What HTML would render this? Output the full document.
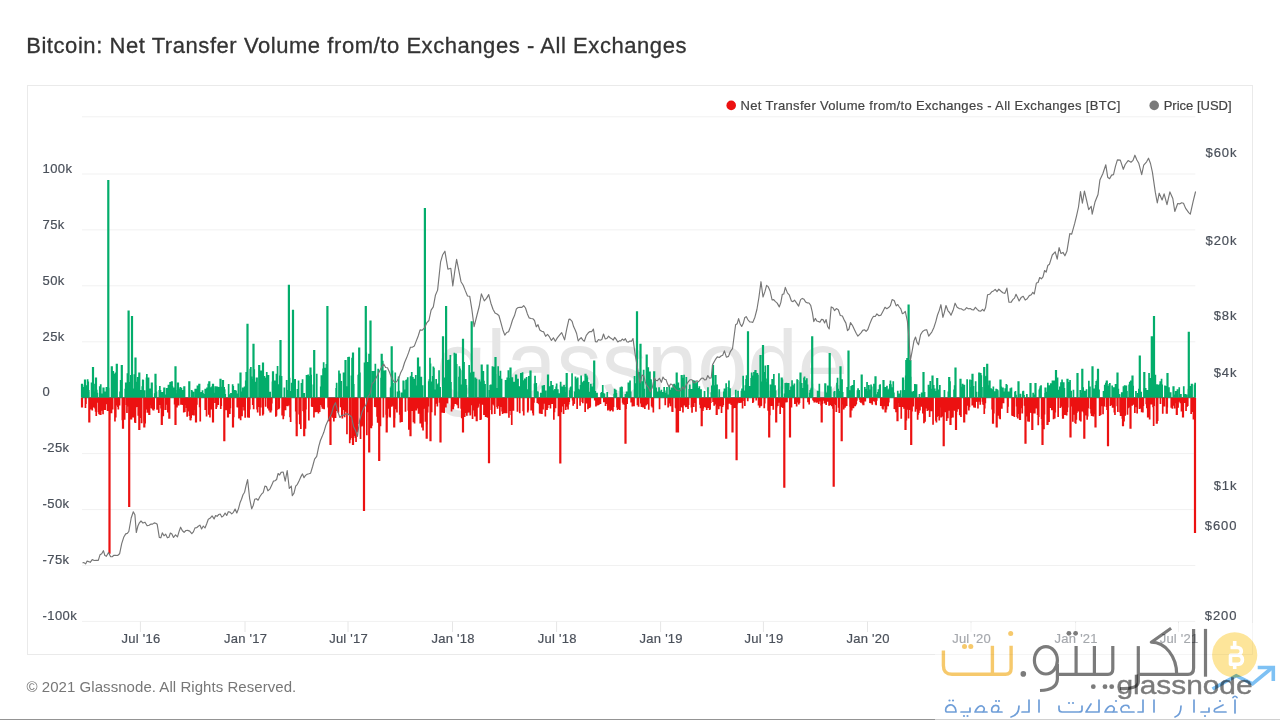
<!DOCTYPE html>
<html><head><meta charset="utf-8"><style>
html,body{margin:0;padding:0;background:#fff;width:1280px;height:720px;overflow:hidden;}
body{position:relative;font-family:"Liberation Sans",sans-serif;}
#title{position:absolute;left:26.2px;top:31px;font-size:22px;color:#333;letter-spacing:0.56px;-webkit-text-stroke:0.3px #333;white-space:nowrap;line-height:30px;}
#foot{position:absolute;left:26.5px;top:676px;font-size:15px;color:#777;white-space:nowrap;line-height:22px;letter-spacing:0.05px;}
#box{position:absolute;left:27px;top:85px;width:1224px;height:568px;border:1px solid #eaeaea;}
svg{position:absolute;left:0;top:0;}
.ax text{font-family:"Liberation Sans",sans-serif;font-size:13px;fill:#4a505a;stroke:#4a505a;stroke-width:0.2px;}
.lg text{font-family:"Liberation Sans",sans-serif;font-size:13px;fill:#444;stroke:#444;stroke-width:0.2px;}
#bline{position:absolute;left:0;top:719px;width:935px;height:1px;background:#949494;}#bline2{position:absolute;left:935px;top:719px;width:345px;height:1px;background:#d0d0d0;}
</style></head><body>
<div id="title">Bitcoin: Net Transfer Volume from/to Exchanges - All Exchanges</div>
<div id="box"></div>
<svg width="1280" height="720" viewBox="0 0 1280 720">
<g><line x1="82.0" x2="1195.3" y1="621.4" y2="621.4" stroke="#f1f1f1" stroke-width="1"/><line x1="82.0" x2="1195.3" y1="565.5" y2="565.5" stroke="#f1f1f1" stroke-width="1"/><line x1="82.0" x2="1195.3" y1="509.6" y2="509.6" stroke="#f1f1f1" stroke-width="1"/><line x1="82.0" x2="1195.3" y1="453.6" y2="453.6" stroke="#f1f1f1" stroke-width="1"/><line x1="82.0" x2="1195.3" y1="397.7" y2="397.7" stroke="#f1f1f1" stroke-width="1"/><line x1="82.0" x2="1195.3" y1="341.8" y2="341.8" stroke="#f1f1f1" stroke-width="1"/><line x1="82.0" x2="1195.3" y1="285.8" y2="285.8" stroke="#f1f1f1" stroke-width="1"/><line x1="82.0" x2="1195.3" y1="229.9" y2="229.9" stroke="#f1f1f1" stroke-width="1"/><line x1="82.0" x2="1195.3" y1="174" y2="174" stroke="#f1f1f1" stroke-width="1"/><line x1="82.0" x2="1195.3" y1="116.8" y2="116.8" stroke="#f1f1f1" stroke-width="1"/><line x1="140.4" x2="140.4" y1="621.5" y2="632" stroke="#e6e6e6" stroke-width="1"/><line x1="245.0" x2="245.0" y1="621.5" y2="632" stroke="#e6e6e6" stroke-width="1"/><line x1="348.0" x2="348.0" y1="621.5" y2="632" stroke="#e6e6e6" stroke-width="1"/><line x1="452.5" x2="452.5" y1="621.5" y2="632" stroke="#e6e6e6" stroke-width="1"/><line x1="556.6" x2="556.6" y1="621.5" y2="632" stroke="#e6e6e6" stroke-width="1"/><line x1="660.6" x2="660.6" y1="621.5" y2="632" stroke="#e6e6e6" stroke-width="1"/><line x1="763.4" x2="763.4" y1="621.5" y2="632" stroke="#e6e6e6" stroke-width="1"/><line x1="867.5" x2="867.5" y1="621.5" y2="632" stroke="#e6e6e6" stroke-width="1"/><line x1="971.0" x2="971.0" y1="621.5" y2="632" stroke="#e6e6e6" stroke-width="1"/><line x1="1075.6" x2="1075.6" y1="621.5" y2="632" stroke="#e6e6e6" stroke-width="1"/><line x1="1178.5" x2="1178.5" y1="621.5" y2="632" stroke="#e6e6e6" stroke-width="1"/></g>
<text x="436" y="397" font-family="Liberation Sans" font-size="95" fill="#e6e6e6" textLength="412" lengthAdjust="spacingAndGlyphs">glassnode</text>
<line x1="82.0" x2="1195.3" y1="397.7" y2="397.7" stroke="#555" stroke-width="1"/>
<path fill="#03ad6b" d="M81.2 390h1.7V397.7h-1.7zM81.7 385.3h1.7V397.7h-1.7zM82.3 387h1.7V397.7h-1.7zM82.9 392.9h1.7V397.7h-1.7zM83.4 393h1.7V397.7h-1.7zM84 392.8h1.7V397.7h-1.7zM85.7 385.3h1.7V397.7h-1.7zM86.3 386.2h1.7V397.7h-1.7zM86.8 379.3h1.7V397.7h-1.7zM87.4 381.5h1.7V397.7h-1.7zM88 392.1h1.7V397.7h-1.7zM93.1 383.7h1.7V397.7h-1.7zM93.7 391.5h1.7V397.7h-1.7zM95.9 389.7h1.7V397.7h-1.7zM96.5 392.7h1.7V397.7h-1.7zM99.9 384.3h1.7V397.7h-1.7zM101 393.6h1.7V397.7h-1.7zM102.8 389.1h1.7V397.7h-1.7zM103.3 392.8h1.7V397.7h-1.7zM103.9 391.4h1.7V397.7h-1.7zM105.6 387h1.7V397.7h-1.7zM106.2 391.1h1.7V397.7h-1.7zM107.3 376.2h1.7V397.7h-1.7zM107.9 387.7h1.7V397.7h-1.7zM112.4 371.1h1.7V397.7h-1.7zM113 382.1h1.7V397.7h-1.7zM113.6 379.1h1.7V397.7h-1.7zM114.7 372.4h1.7V397.7h-1.7zM115.3 385.6h1.7V397.7h-1.7zM119.2 391.5h1.7V397.7h-1.7zM119.8 380h1.7V397.7h-1.7zM120.4 388.6h1.7V397.7h-1.7zM120.9 385.6h1.7V397.7h-1.7zM124.4 391.7h1.7V397.7h-1.7zM124.9 382.4h1.7V397.7h-1.7zM125.5 382.4h1.7V397.7h-1.7zM126.6 373.3h1.7V397.7h-1.7zM127.2 387.4h1.7V397.7h-1.7zM128.3 382.1h1.7V397.7h-1.7zM128.9 386.4h1.7V397.7h-1.7zM130 374.9h1.7V397.7h-1.7zM132.9 388.4h1.7V397.7h-1.7zM133.5 374.3h1.7V397.7h-1.7zM136.3 381.8h1.7V397.7h-1.7zM136.9 377h1.7V397.7h-1.7zM138 391.1h1.7V397.7h-1.7zM139.7 389.9h1.7V397.7h-1.7zM141.4 386.2h1.7V397.7h-1.7zM142 379.6h1.7V397.7h-1.7zM142.5 390.6h1.7V397.7h-1.7zM143.7 390.3h1.7V397.7h-1.7zM146 374h1.7V397.7h-1.7zM147.1 385.6h1.7V397.7h-1.7zM147.7 377.4h1.7V397.7h-1.7zM148.2 388.8h1.7V397.7h-1.7zM148.8 388.9h1.7V397.7h-1.7zM149.4 388.6h1.7V397.7h-1.7zM151.1 382.6h1.7V397.7h-1.7zM153.9 393.2h1.7V397.7h-1.7zM154.5 392.4h1.7V397.7h-1.7zM155.1 385.3h1.7V397.7h-1.7zM155.6 391.5h1.7V397.7h-1.7zM158.5 390h1.7V397.7h-1.7zM159 385.9h1.7V397.7h-1.7zM159.6 389.9h1.7V397.7h-1.7zM161.3 391.9h1.7V397.7h-1.7zM163 391.6h1.7V397.7h-1.7zM163.6 389.6h1.7V397.7h-1.7zM164.2 394.6h1.7V397.7h-1.7zM164.7 394.8h1.7V397.7h-1.7zM165.9 388.1h1.7V397.7h-1.7zM167.6 384.8h1.7V397.7h-1.7zM169.3 382.1h1.7V397.7h-1.7zM169.8 392.8h1.7V397.7h-1.7zM170.4 388.8h1.7V397.7h-1.7zM171 392.5h1.7V397.7h-1.7zM171.5 386h1.7V397.7h-1.7zM172.1 388.3h1.7V397.7h-1.7zM172.7 393.9h1.7V397.7h-1.7zM173.2 387.4h1.7V397.7h-1.7zM174.4 385.1h1.7V397.7h-1.7zM175 393.3h1.7V397.7h-1.7zM176.7 390.1h1.7V397.7h-1.7zM177.2 384.9h1.7V397.7h-1.7zM178.4 388.4h1.7V397.7h-1.7zM178.9 393.5h1.7V397.7h-1.7zM179.5 386.9h1.7V397.7h-1.7zM180.6 387.7h1.7V397.7h-1.7zM181.8 393.8h1.7V397.7h-1.7zM182.3 390.1h1.7V397.7h-1.7zM190.9 390h1.7V397.7h-1.7zM191.4 391.2h1.7V397.7h-1.7zM192.6 391.7h1.7V397.7h-1.7zM194.8 394h1.7V397.7h-1.7zM195.4 392.5h1.7V397.7h-1.7zM196.6 385.4h1.7V397.7h-1.7zM197.1 392.3h1.7V397.7h-1.7zM197.7 392.2h1.7V397.7h-1.7zM198.3 393.4h1.7V397.7h-1.7zM200 392.6h1.7V397.7h-1.7zM200.5 392h1.7V397.7h-1.7zM201.1 394.3h1.7V397.7h-1.7zM201.7 390.3h1.7V397.7h-1.7zM202.2 393h1.7V397.7h-1.7zM202.8 394.3h1.7V397.7h-1.7zM203.4 393.9h1.7V397.7h-1.7zM203.9 394.2h1.7V397.7h-1.7zM204.5 392.1h1.7V397.7h-1.7zM205.1 389h1.7V397.7h-1.7zM206.2 387.4h1.7V397.7h-1.7zM206.8 391.2h1.7V397.7h-1.7zM207.4 383.8h1.7V397.7h-1.7zM208.5 394.2h1.7V397.7h-1.7zM209.6 387.2h1.7V397.7h-1.7zM210.2 393.5h1.7V397.7h-1.7zM211.3 386.3h1.7V397.7h-1.7zM212.5 387.8h1.7V397.7h-1.7zM213 392.7h1.7V397.7h-1.7zM213.6 393.6h1.7V397.7h-1.7zM214.7 389.3h1.7V397.7h-1.7zM216.5 386.4h1.7V397.7h-1.7zM217 390h1.7V397.7h-1.7zM217.6 388.1h1.7V397.7h-1.7zM218.2 387.1h1.7V397.7h-1.7zM218.7 394h1.7V397.7h-1.7zM219.3 387.2h1.7V397.7h-1.7zM221 390.2h1.7V397.7h-1.7zM221.6 386.7h1.7V397.7h-1.7zM222.1 388.3h1.7V397.7h-1.7zM222.7 393.4h1.7V397.7h-1.7zM223.3 387.1h1.7V397.7h-1.7zM223.8 389.2h1.7V397.7h-1.7zM224.4 394.1h1.7V397.7h-1.7zM227.8 383.9h1.7V397.7h-1.7zM228.4 394.3h1.7V397.7h-1.7zM230.1 392.9h1.7V397.7h-1.7zM230.7 392.9h1.7V397.7h-1.7zM231.2 393.5h1.7V397.7h-1.7zM231.8 384.3h1.7V397.7h-1.7zM232.4 386.1h1.7V397.7h-1.7zM233.5 392.7h1.7V397.7h-1.7zM234.1 390.1h1.7V397.7h-1.7zM234.6 394.3h1.7V397.7h-1.7zM235.2 390.5h1.7V397.7h-1.7zM235.8 393.5h1.7V397.7h-1.7zM236.9 394h1.7V397.7h-1.7zM237.5 383.6h1.7V397.7h-1.7zM241.5 391.6h1.7V397.7h-1.7zM243.7 386.6h1.7V397.7h-1.7zM244.9 380.6h1.7V397.7h-1.7zM245.4 371.9h1.7V397.7h-1.7zM246 377.6h1.7V397.7h-1.7zM246.6 376.3h1.7V397.7h-1.7zM249.4 385.3h1.7V397.7h-1.7zM250 367.1h1.7V397.7h-1.7zM250.6 376.4h1.7V397.7h-1.7zM251.1 379.1h1.7V397.7h-1.7zM251.7 387.9h1.7V397.7h-1.7zM253.4 369.2h1.7V397.7h-1.7zM254 381.8h1.7V397.7h-1.7zM254.5 387.4h1.7V397.7h-1.7zM255.1 384.3h1.7V397.7h-1.7zM255.7 386.5h1.7V397.7h-1.7zM259.7 380.4h1.7V397.7h-1.7zM260.2 370.5h1.7V397.7h-1.7zM260.8 385.8h1.7V397.7h-1.7zM261.4 384.1h1.7V397.7h-1.7zM263.1 391.1h1.7V397.7h-1.7zM263.6 376.1h1.7V397.7h-1.7zM264.2 382.8h1.7V397.7h-1.7zM265.3 377.7h1.7V397.7h-1.7zM265.9 372h1.7V397.7h-1.7zM266.5 390.9h1.7V397.7h-1.7zM267.6 375.1h1.7V397.7h-1.7zM269.3 391.7h1.7V397.7h-1.7zM271.6 381.6h1.7V397.7h-1.7zM272.2 390.7h1.7V397.7h-1.7zM272.7 382.4h1.7V397.7h-1.7zM273.3 386.3h1.7V397.7h-1.7zM273.9 380.5h1.7V397.7h-1.7zM274.4 386.7h1.7V397.7h-1.7zM276.7 366.1h1.7V397.7h-1.7zM277.3 384.3h1.7V397.7h-1.7zM279 375.4h1.7V397.7h-1.7zM279.6 386.3h1.7V397.7h-1.7zM280.1 384.3h1.7V397.7h-1.7zM280.7 376.1h1.7V397.7h-1.7zM283.5 387.6h1.7V397.7h-1.7zM285.8 380.1h1.7V397.7h-1.7zM286.4 390h1.7V397.7h-1.7zM288.7 377.8h1.7V397.7h-1.7zM290.4 391h1.7V397.7h-1.7zM290.9 382.8h1.7V397.7h-1.7zM291.5 384.3h1.7V397.7h-1.7zM292.1 388.9h1.7V397.7h-1.7zM292.6 391.6h1.7V397.7h-1.7zM293.2 390.3h1.7V397.7h-1.7zM293.8 379.3h1.7V397.7h-1.7zM294.3 379.1h1.7V397.7h-1.7zM296.6 389h1.7V397.7h-1.7zM297.2 391.4h1.7V397.7h-1.7zM297.7 380.4h1.7V397.7h-1.7zM300.6 383.1h1.7V397.7h-1.7zM301.2 389.5h1.7V397.7h-1.7zM301.7 379.2h1.7V397.7h-1.7zM303.4 393.1h1.7V397.7h-1.7zM305.7 375.1h1.7V397.7h-1.7zM306.3 386.8h1.7V397.7h-1.7zM306.8 385.3h1.7V397.7h-1.7zM307.4 374.5h1.7V397.7h-1.7zM308.5 375.9h1.7V397.7h-1.7zM309.1 380h1.7V397.7h-1.7zM309.7 385.7h1.7V397.7h-1.7zM310.3 374.7h1.7V397.7h-1.7zM312.5 384.6h1.7V397.7h-1.7zM315.9 373.7h1.7V397.7h-1.7zM319.9 386.5h1.7V397.7h-1.7zM320.5 375.3h1.7V397.7h-1.7zM322.2 368.6h1.7V397.7h-1.7zM322.8 362.3h1.7V397.7h-1.7zM323.9 367.8h1.7V397.7h-1.7zM324.5 388.9h1.7V397.7h-1.7zM325 387.7h1.7V397.7h-1.7zM325.6 364.1h1.7V397.7h-1.7zM326.2 365.9h1.7V397.7h-1.7zM326.7 368h1.7V397.7h-1.7zM335.3 387.9h1.7V397.7h-1.7zM335.8 382.7h1.7V397.7h-1.7zM338.1 370.5h1.7V397.7h-1.7zM338.7 383.2h1.7V397.7h-1.7zM339.2 373.4h1.7V397.7h-1.7zM340.4 381.1h1.7V397.7h-1.7zM342.7 372.4h1.7V397.7h-1.7zM344.9 374.7h1.7V397.7h-1.7zM345.5 386.3h1.7V397.7h-1.7zM347.2 357.1h1.7V397.7h-1.7zM347.8 374h1.7V397.7h-1.7zM348.3 356.7h1.7V397.7h-1.7zM350.6 375.6h1.7V397.7h-1.7zM351.2 357.8h1.7V397.7h-1.7zM351.8 381.3h1.7V397.7h-1.7zM352.3 370.9h1.7V397.7h-1.7zM352.9 383.9h1.7V397.7h-1.7zM357.4 374.7h1.7V397.7h-1.7zM358 373.9h1.7V397.7h-1.7zM358.6 386.2h1.7V397.7h-1.7zM359.1 372.4h1.7V397.7h-1.7zM363.7 362.4h1.7V397.7h-1.7zM364.3 371.3h1.7V397.7h-1.7zM364.8 371.6h1.7V397.7h-1.7zM365.4 352.5h1.7V397.7h-1.7zM366.5 362.1h1.7V397.7h-1.7zM367.7 371.8h1.7V397.7h-1.7zM368.2 353.7h1.7V397.7h-1.7zM371.7 371.1h1.7V397.7h-1.7zM372.2 381.3h1.7V397.7h-1.7zM372.8 370.9h1.7V397.7h-1.7zM373.4 385.6h1.7V397.7h-1.7zM374.5 363.7h1.7V397.7h-1.7zM377.3 368.7h1.7V397.7h-1.7zM380.2 377.7h1.7V397.7h-1.7zM380.7 375h1.7V397.7h-1.7zM381.3 364h1.7V397.7h-1.7zM381.9 360.8h1.7V397.7h-1.7zM383 370.5h1.7V397.7h-1.7zM383.6 380.1h1.7V397.7h-1.7zM384.2 387.1h1.7V397.7h-1.7zM384.7 370.2h1.7V397.7h-1.7zM389.8 387.6h1.7V397.7h-1.7zM390.4 385.9h1.7V397.7h-1.7zM391.6 370.4h1.7V397.7h-1.7zM392.1 383h1.7V397.7h-1.7zM394.4 372.5h1.7V397.7h-1.7zM396.7 391.5h1.7V397.7h-1.7zM397.2 392.3h1.7V397.7h-1.7zM397.8 376.6h1.7V397.7h-1.7zM398.4 390.7h1.7V397.7h-1.7zM400.6 392.4h1.7V397.7h-1.7zM401.8 392.5h1.7V397.7h-1.7zM402.4 380.6h1.7V397.7h-1.7zM402.9 380.7h1.7V397.7h-1.7zM403.5 389.5h1.7V397.7h-1.7zM404.1 389.4h1.7V397.7h-1.7zM405.2 379.9h1.7V397.7h-1.7zM405.8 379.5h1.7V397.7h-1.7zM406.3 382.5h1.7V397.7h-1.7zM406.9 377.2h1.7V397.7h-1.7zM409.7 376.4h1.7V397.7h-1.7zM410.3 375.7h1.7V397.7h-1.7zM410.9 372.1h1.7V397.7h-1.7zM412 377.1h1.7V397.7h-1.7zM413.2 378.8h1.7V397.7h-1.7zM414.3 378.9h1.7V397.7h-1.7zM414.9 374.9h1.7V397.7h-1.7zM416 387.2h1.7V397.7h-1.7zM416.6 385.4h1.7V397.7h-1.7zM418.8 366.4h1.7V397.7h-1.7zM420.5 376.8h1.7V397.7h-1.7zM421.7 385.3h1.7V397.7h-1.7zM424 356.7h1.7V397.7h-1.7zM427.9 381.2h1.7V397.7h-1.7zM428.5 379.2h1.7V397.7h-1.7zM429.1 357.8h1.7V397.7h-1.7zM429.6 363.4h1.7V397.7h-1.7zM430.2 388.1h1.7V397.7h-1.7zM431.3 381.6h1.7V397.7h-1.7zM431.9 376h1.7V397.7h-1.7zM432.5 366.4h1.7V397.7h-1.7zM433.1 367.8h1.7V397.7h-1.7zM433.6 389.4h1.7V397.7h-1.7zM435.3 378.9h1.7V397.7h-1.7zM435.9 386.4h1.7V397.7h-1.7zM437 384.3h1.7V397.7h-1.7zM437.6 383.3h1.7V397.7h-1.7zM438.2 370.2h1.7V397.7h-1.7zM439.3 387.1h1.7V397.7h-1.7zM443.9 377.5h1.7V397.7h-1.7zM444.4 381.6h1.7V397.7h-1.7zM445.6 361.9h1.7V397.7h-1.7zM446.1 377.5h1.7V397.7h-1.7zM447.3 364.8h1.7V397.7h-1.7zM447.8 382.6h1.7V397.7h-1.7zM448.4 359.5h1.7V397.7h-1.7zM449 383.5h1.7V397.7h-1.7zM449.5 354.9h1.7V397.7h-1.7zM450.1 381.9h1.7V397.7h-1.7zM453.5 352.8h1.7V397.7h-1.7zM455.2 353.4h1.7V397.7h-1.7zM455.8 364.1h1.7V397.7h-1.7zM458.1 376.8h1.7V397.7h-1.7zM458.6 366.2h1.7V397.7h-1.7zM459.2 368.4h1.7V397.7h-1.7zM459.8 384.4h1.7V397.7h-1.7zM461.5 370.3h1.7V397.7h-1.7zM462 375.8h1.7V397.7h-1.7zM463.2 362h1.7V397.7h-1.7zM464.9 379.1h1.7V397.7h-1.7zM465.5 385h1.7V397.7h-1.7zM468.3 365.1h1.7V397.7h-1.7zM470 372.4h1.7V397.7h-1.7zM470.6 386h1.7V397.7h-1.7zM472.8 371.8h1.7V397.7h-1.7zM474.6 377.6h1.7V397.7h-1.7zM475.7 378.7h1.7V397.7h-1.7zM478.5 379.6h1.7V397.7h-1.7zM479.1 381.5h1.7V397.7h-1.7zM480.8 385.7h1.7V397.7h-1.7zM481.4 382h1.7V397.7h-1.7zM482.5 371.1h1.7V397.7h-1.7zM483.1 380.7h1.7V397.7h-1.7zM484.2 384h1.7V397.7h-1.7zM488.8 389.9h1.7V397.7h-1.7zM489.3 385h1.7V397.7h-1.7zM489.9 384.6h1.7V397.7h-1.7zM491.6 366.3h1.7V397.7h-1.7zM492.7 366.7h1.7V397.7h-1.7zM494.4 389.3h1.7V397.7h-1.7zM495 374h1.7V397.7h-1.7zM495.6 387.9h1.7V397.7h-1.7zM497.3 366.2h1.7V397.7h-1.7zM498.4 375.7h1.7V397.7h-1.7zM499.6 370.7h1.7V397.7h-1.7zM500.7 378.7h1.7V397.7h-1.7zM504.7 380h1.7V397.7h-1.7zM506.4 377.6h1.7V397.7h-1.7zM507 384.5h1.7V397.7h-1.7zM507.5 370.3h1.7V397.7h-1.7zM509.2 378.1h1.7V397.7h-1.7zM511.5 377.2h1.7V397.7h-1.7zM513.2 381.8h1.7V397.7h-1.7zM513.8 388.2h1.7V397.7h-1.7zM514.3 384.1h1.7V397.7h-1.7zM514.9 374.5h1.7V397.7h-1.7zM515.5 374.4h1.7V397.7h-1.7zM516.1 382.3h1.7V397.7h-1.7zM517.2 378.8h1.7V397.7h-1.7zM517.8 386h1.7V397.7h-1.7zM518.3 386.6h1.7V397.7h-1.7zM519.5 390.7h1.7V397.7h-1.7zM520 372.9h1.7V397.7h-1.7zM520.6 390.6h1.7V397.7h-1.7zM521.2 391.1h1.7V397.7h-1.7zM521.7 372.2h1.7V397.7h-1.7zM523.4 380.2h1.7V397.7h-1.7zM524 378.4h1.7V397.7h-1.7zM524.6 378.9h1.7V397.7h-1.7zM525.1 379.2h1.7V397.7h-1.7zM525.7 377.1h1.7V397.7h-1.7zM526.3 389.2h1.7V397.7h-1.7zM528 376.1h1.7V397.7h-1.7zM528.6 382.3h1.7V397.7h-1.7zM529.1 387.4h1.7V397.7h-1.7zM529.7 387.2h1.7V397.7h-1.7zM533.7 383.5h1.7V397.7h-1.7zM534.2 375.8h1.7V397.7h-1.7zM534.8 387h1.7V397.7h-1.7zM535.4 383.1h1.7V397.7h-1.7zM535.9 391.1h1.7V397.7h-1.7zM537.1 391.6h1.7V397.7h-1.7zM539.9 392.7h1.7V397.7h-1.7zM541.6 385.5h1.7V397.7h-1.7zM542.8 391.1h1.7V397.7h-1.7zM543.3 384.9h1.7V397.7h-1.7zM545 390.6h1.7V397.7h-1.7zM547.3 388.9h1.7V397.7h-1.7zM548.5 389.9h1.7V397.7h-1.7zM549 386.2h1.7V397.7h-1.7zM550.2 381.1h1.7V397.7h-1.7zM550.7 387.1h1.7V397.7h-1.7zM551.9 385.1h1.7V397.7h-1.7zM552.4 390.3h1.7V397.7h-1.7zM554.1 389.1h1.7V397.7h-1.7zM555.3 386.6h1.7V397.7h-1.7zM555.8 383.4h1.7V397.7h-1.7zM556.4 393.5h1.7V397.7h-1.7zM557 389.2h1.7V397.7h-1.7zM558.1 393.3h1.7V397.7h-1.7zM559.8 381.8h1.7V397.7h-1.7zM561.5 386.4h1.7V397.7h-1.7zM563.2 384.9h1.7V397.7h-1.7zM563.8 386.9h1.7V397.7h-1.7zM565.5 391.9h1.7V397.7h-1.7zM566.1 380.7h1.7V397.7h-1.7zM568.9 390.2h1.7V397.7h-1.7zM569.5 387.4h1.7V397.7h-1.7zM570.1 386.4h1.7V397.7h-1.7zM570.6 390.5h1.7V397.7h-1.7zM571.2 373.3h1.7V397.7h-1.7zM574 391.6h1.7V397.7h-1.7zM574.6 376.4h1.7V397.7h-1.7zM575.2 383h1.7V397.7h-1.7zM575.7 378.4h1.7V397.7h-1.7zM576.9 377.5h1.7V397.7h-1.7zM577.5 388.7h1.7V397.7h-1.7zM578 389.6h1.7V397.7h-1.7zM578.6 391.1h1.7V397.7h-1.7zM579.7 385.1h1.7V397.7h-1.7zM580.3 375.4h1.7V397.7h-1.7zM580.9 382.3h1.7V397.7h-1.7zM582.6 381.4h1.7V397.7h-1.7zM583.1 380.8h1.7V397.7h-1.7zM583.7 385.3h1.7V397.7h-1.7zM586 375.6h1.7V397.7h-1.7zM586.5 377.6h1.7V397.7h-1.7zM587.7 382h1.7V397.7h-1.7zM588.3 391.8h1.7V397.7h-1.7zM590 383.8h1.7V397.7h-1.7zM590.5 391.6h1.7V397.7h-1.7zM591.1 389.7h1.7V397.7h-1.7zM591.7 386.4h1.7V397.7h-1.7zM592.2 390.3h1.7V397.7h-1.7zM592.8 383.2h1.7V397.7h-1.7zM593.4 382.9h1.7V397.7h-1.7zM594.5 390.9h1.7V397.7h-1.7zM596.2 392.7h1.7V397.7h-1.7zM600.2 393h1.7V397.7h-1.7zM600.8 391.9h1.7V397.7h-1.7zM601.3 393.1h1.7V397.7h-1.7zM601.9 384.9h1.7V397.7h-1.7zM602.5 393.1h1.7V397.7h-1.7zM603.6 393.6h1.7V397.7h-1.7zM606.4 391.9h1.7V397.7h-1.7zM613.3 393.7h1.7V397.7h-1.7zM613.8 388.7h1.7V397.7h-1.7zM614.4 394.4h1.7V397.7h-1.7zM615 389.8h1.7V397.7h-1.7zM615.5 393h1.7V397.7h-1.7zM619.5 387.2h1.7V397.7h-1.7zM620.1 391h1.7V397.7h-1.7zM620.7 386.4h1.7V397.7h-1.7zM621.2 386.9h1.7V397.7h-1.7zM624.6 393.9h1.7V397.7h-1.7zM625.8 391.5h1.7V397.7h-1.7zM626.9 393.5h1.7V397.7h-1.7zM627.5 382.4h1.7V397.7h-1.7zM628 388.2h1.7V397.7h-1.7zM628.6 387.9h1.7V397.7h-1.7zM629.2 380.4h1.7V397.7h-1.7zM629.8 391.6h1.7V397.7h-1.7zM633.7 375.9h1.7V397.7h-1.7zM634.3 391.2h1.7V397.7h-1.7zM634.9 383.2h1.7V397.7h-1.7zM635.4 387.1h1.7V397.7h-1.7zM636 384.2h1.7V397.7h-1.7zM638.3 372.1h1.7V397.7h-1.7zM638.8 383.5h1.7V397.7h-1.7zM639.4 371h1.7V397.7h-1.7zM641.7 381.2h1.7V397.7h-1.7zM642.8 369.8h1.7V397.7h-1.7zM643.4 388.8h1.7V397.7h-1.7zM647.4 367.3h1.7V397.7h-1.7zM648.5 373.5h1.7V397.7h-1.7zM649.1 371.4h1.7V397.7h-1.7zM649.6 379.1h1.7V397.7h-1.7zM650.2 379.4h1.7V397.7h-1.7zM653.1 388.6h1.7V397.7h-1.7zM653.6 391.7h1.7V397.7h-1.7zM654.2 379.3h1.7V397.7h-1.7zM654.8 390.4h1.7V397.7h-1.7zM655.3 387.6h1.7V397.7h-1.7zM655.9 392.6h1.7V397.7h-1.7zM656.5 391.5h1.7V397.7h-1.7zM657 391.5h1.7V397.7h-1.7zM657.6 393.9h1.7V397.7h-1.7zM658.2 387.3h1.7V397.7h-1.7zM659.3 393.6h1.7V397.7h-1.7zM659.9 391.3h1.7V397.7h-1.7zM660.5 389.8h1.7V397.7h-1.7zM661 392.7h1.7V397.7h-1.7zM661.6 393.4h1.7V397.7h-1.7zM662.2 392h1.7V397.7h-1.7zM662.7 394.7h1.7V397.7h-1.7zM663.3 387h1.7V397.7h-1.7zM663.9 390.4h1.7V397.7h-1.7zM665 392.8h1.7V397.7h-1.7zM665.6 393.9h1.7V397.7h-1.7zM666.1 386.9h1.7V397.7h-1.7zM666.7 394.5h1.7V397.7h-1.7zM668.4 385.8h1.7V397.7h-1.7zM669 393.9h1.7V397.7h-1.7zM670.1 389.7h1.7V397.7h-1.7zM670.7 387.5h1.7V397.7h-1.7zM672.4 386h1.7V397.7h-1.7zM673 384.2h1.7V397.7h-1.7zM673.5 383.8h1.7V397.7h-1.7zM674.1 385.3h1.7V397.7h-1.7zM675.8 383.2h1.7V397.7h-1.7zM676.4 385.3h1.7V397.7h-1.7zM676.9 387.7h1.7V397.7h-1.7zM677.5 382.4h1.7V397.7h-1.7zM678.1 388.1h1.7V397.7h-1.7zM678.6 387.7h1.7V397.7h-1.7zM682.6 377.8h1.7V397.7h-1.7zM683.2 374.8h1.7V397.7h-1.7zM685.5 377.1h1.7V397.7h-1.7zM688.3 389.1h1.7V397.7h-1.7zM688.9 384.4h1.7V397.7h-1.7zM689.4 392.4h1.7V397.7h-1.7zM690 389.1h1.7V397.7h-1.7zM691.7 388.9h1.7V397.7h-1.7zM692.3 380.2h1.7V397.7h-1.7zM694 380.5h1.7V397.7h-1.7zM694.6 387.9h1.7V397.7h-1.7zM695.7 383.2h1.7V397.7h-1.7zM696.3 382.1h1.7V397.7h-1.7zM696.8 392.3h1.7V397.7h-1.7zM697.4 387.9h1.7V397.7h-1.7zM698 392h1.7V397.7h-1.7zM698.5 386.2h1.7V397.7h-1.7zM700.2 389.3h1.7V397.7h-1.7zM703.7 391h1.7V397.7h-1.7zM707.1 387.2h1.7V397.7h-1.7zM710.5 392.3h1.7V397.7h-1.7zM711 385.6h1.7V397.7h-1.7zM711.6 387.7h1.7V397.7h-1.7zM712.8 385.3h1.7V397.7h-1.7zM714.5 378.6h1.7V397.7h-1.7zM716.2 384.4h1.7V397.7h-1.7zM718.4 389.2h1.7V397.7h-1.7zM723 391.6h1.7V397.7h-1.7zM723.6 388.6h1.7V397.7h-1.7zM724.1 390.8h1.7V397.7h-1.7zM724.7 390.2h1.7V397.7h-1.7zM725.3 383.3h1.7V397.7h-1.7zM727.5 387.1h1.7V397.7h-1.7zM728.1 380.6h1.7V397.7h-1.7zM729.2 388.2h1.7V397.7h-1.7zM734.9 389.8h1.7V397.7h-1.7zM737.2 390.7h1.7V397.7h-1.7zM740.6 390.8h1.7V397.7h-1.7zM741.2 388.4h1.7V397.7h-1.7zM742.3 375.8h1.7V397.7h-1.7zM742.9 390.4h1.7V397.7h-1.7zM744.6 385.3h1.7V397.7h-1.7zM745.2 378.9h1.7V397.7h-1.7zM745.7 375.3h1.7V397.7h-1.7zM746.3 379.9h1.7V397.7h-1.7zM747.4 376.6h1.7V397.7h-1.7zM748 390.6h1.7V397.7h-1.7zM748.6 388.7h1.7V397.7h-1.7zM749.1 386.1h1.7V397.7h-1.7zM749.7 390.3h1.7V397.7h-1.7zM750.3 377.9h1.7V397.7h-1.7zM750.8 372.5h1.7V397.7h-1.7zM751.4 375.5h1.7V397.7h-1.7zM753.1 371.9h1.7V397.7h-1.7zM753.7 385.6h1.7V397.7h-1.7zM754.3 370.7h1.7V397.7h-1.7zM754.8 389.7h1.7V397.7h-1.7zM756 386.9h1.7V397.7h-1.7zM756.5 373.1h1.7V397.7h-1.7zM757.1 374.7h1.7V397.7h-1.7zM759.4 366.9h1.7V397.7h-1.7zM761.1 389.2h1.7V397.7h-1.7zM761.6 381.4h1.7V397.7h-1.7zM762.2 367h1.7V397.7h-1.7zM762.8 372.1h1.7V397.7h-1.7zM764.5 365.6h1.7V397.7h-1.7zM765.1 378.4h1.7V397.7h-1.7zM765.6 389.2h1.7V397.7h-1.7zM766.2 381.9h1.7V397.7h-1.7zM766.8 384.3h1.7V397.7h-1.7zM769.6 384.6h1.7V397.7h-1.7zM770.2 387.8h1.7V397.7h-1.7zM771.3 379h1.7V397.7h-1.7zM773 373.9h1.7V397.7h-1.7zM773.6 389.3h1.7V397.7h-1.7zM774.2 385.2h1.7V397.7h-1.7zM774.7 390.4h1.7V397.7h-1.7zM778.1 373.2h1.7V397.7h-1.7zM781.5 379.4h1.7V397.7h-1.7zM783.8 393.4h1.7V397.7h-1.7zM784.4 382.9h1.7V397.7h-1.7zM785.5 382.8h1.7V397.7h-1.7zM786.7 383h1.7V397.7h-1.7zM787.2 390.4h1.7V397.7h-1.7zM787.8 383.1h1.7V397.7h-1.7zM788.4 389.9h1.7V397.7h-1.7zM790.1 386.5h1.7V397.7h-1.7zM791.2 380.3h1.7V397.7h-1.7zM791.8 387h1.7V397.7h-1.7zM792.3 391.6h1.7V397.7h-1.7zM792.9 385.3h1.7V397.7h-1.7zM793.5 383.4h1.7V397.7h-1.7zM796.3 379.3h1.7V397.7h-1.7zM796.9 379.9h1.7V397.7h-1.7zM799.2 381.6h1.7V397.7h-1.7zM799.7 376h1.7V397.7h-1.7zM800.3 388.3h1.7V397.7h-1.7zM800.9 383h1.7V397.7h-1.7zM801.4 389.9h1.7V397.7h-1.7zM802 387.9h1.7V397.7h-1.7zM803.1 377.8h1.7V397.7h-1.7zM803.7 376.5h1.7V397.7h-1.7zM804.3 380.3h1.7V397.7h-1.7zM804.9 382.9h1.7V397.7h-1.7zM805.4 389.6h1.7V397.7h-1.7zM806 378.2h1.7V397.7h-1.7zM806.6 384.5h1.7V397.7h-1.7zM808.8 392.8h1.7V397.7h-1.7zM809.4 389.9h1.7V397.7h-1.7zM810 389.4h1.7V397.7h-1.7zM810.5 387.8h1.7V397.7h-1.7zM811.1 393h1.7V397.7h-1.7zM811.7 383.7h1.7V397.7h-1.7zM816.8 390.7h1.7V397.7h-1.7zM818.5 383.8h1.7V397.7h-1.7zM824.2 383.3h1.7V397.7h-1.7zM824.7 383.5h1.7V397.7h-1.7zM825.9 392.4h1.7V397.7h-1.7zM827 385.6h1.7V397.7h-1.7zM827.6 392.6h1.7V397.7h-1.7zM829.9 386.6h1.7V397.7h-1.7zM833.3 391.8h1.7V397.7h-1.7zM833.8 390.9h1.7V397.7h-1.7zM836.1 382.8h1.7V397.7h-1.7zM836.7 377.8h1.7V397.7h-1.7zM837.3 388.7h1.7V397.7h-1.7zM839 390.9h1.7V397.7h-1.7zM839.5 383h1.7V397.7h-1.7zM840.1 386.6h1.7V397.7h-1.7zM840.7 379.9h1.7V397.7h-1.7zM841.2 379.3h1.7V397.7h-1.7zM841.8 392.1h1.7V397.7h-1.7zM846.4 387h1.7V397.7h-1.7zM846.9 392.5h1.7V397.7h-1.7zM847.5 383.6h1.7V397.7h-1.7zM848.1 389.9h1.7V397.7h-1.7zM848.6 390.2h1.7V397.7h-1.7zM850.3 386h1.7V397.7h-1.7zM851.5 384.9h1.7V397.7h-1.7zM852 389.1h1.7V397.7h-1.7zM853.2 380h1.7V397.7h-1.7zM856.6 390.2h1.7V397.7h-1.7zM857.2 388.2h1.7V397.7h-1.7zM857.7 391.3h1.7V397.7h-1.7zM858.3 390.1h1.7V397.7h-1.7zM864 386.9h1.7V397.7h-1.7zM865.1 389.1h1.7V397.7h-1.7zM865.7 393.1h1.7V397.7h-1.7zM866.2 381.9h1.7V397.7h-1.7zM866.8 391.2h1.7V397.7h-1.7zM867.4 392.2h1.7V397.7h-1.7zM868 385.1h1.7V397.7h-1.7zM868.5 389.5h1.7V397.7h-1.7zM870.2 384.6h1.7V397.7h-1.7zM870.8 386.6h1.7V397.7h-1.7zM873.1 383.7h1.7V397.7h-1.7zM873.6 383.7h1.7V397.7h-1.7zM876.5 394.3h1.7V397.7h-1.7zM877 392h1.7V397.7h-1.7zM877.6 389.2h1.7V397.7h-1.7zM878.2 390.7h1.7V397.7h-1.7zM878.8 385.1h1.7V397.7h-1.7zM879.3 384.3h1.7V397.7h-1.7zM883.3 389.7h1.7V397.7h-1.7zM883.9 389.1h1.7V397.7h-1.7zM884.4 386.9h1.7V397.7h-1.7zM886.1 385.8h1.7V397.7h-1.7zM886.7 389.6h1.7V397.7h-1.7zM888.4 388.4h1.7V397.7h-1.7zM889 383.9h1.7V397.7h-1.7zM889.6 380.4h1.7V397.7h-1.7zM890.1 384.2h1.7V397.7h-1.7zM890.7 393.4h1.7V397.7h-1.7zM891.3 393.2h1.7V397.7h-1.7zM891.8 387.3h1.7V397.7h-1.7zM892.4 381.2h1.7V397.7h-1.7zM893 392.4h1.7V397.7h-1.7zM896.9 390.7h1.7V397.7h-1.7zM898.1 393.4h1.7V397.7h-1.7zM899.8 390.3h1.7V397.7h-1.7zM902.6 379.7h1.7V397.7h-1.7zM904.3 389.9h1.7V397.7h-1.7zM904.9 375.4h1.7V397.7h-1.7zM906.6 384.6h1.7V397.7h-1.7zM908.3 383.4h1.7V397.7h-1.7zM909.5 387.2h1.7V397.7h-1.7zM910 376.7h1.7V397.7h-1.7zM911.7 391.5h1.7V397.7h-1.7zM912.9 391h1.7V397.7h-1.7zM913.4 391.6h1.7V397.7h-1.7zM914 384.1h1.7V397.7h-1.7zM915.1 385.5h1.7V397.7h-1.7zM915.7 384.2h1.7V397.7h-1.7zM918.6 394.1h1.7V397.7h-1.7zM920.8 392.6h1.7V397.7h-1.7zM923.7 391.9h1.7V397.7h-1.7zM927.6 384.8h1.7V397.7h-1.7zM928.2 386.9h1.7V397.7h-1.7zM929.4 381.1h1.7V397.7h-1.7zM929.9 388.8h1.7V397.7h-1.7zM932.8 385h1.7V397.7h-1.7zM933.3 390.2h1.7V397.7h-1.7zM933.9 388.5h1.7V397.7h-1.7zM934.5 391h1.7V397.7h-1.7zM937.3 389.4h1.7V397.7h-1.7zM939 385h1.7V397.7h-1.7zM943.6 390.1h1.7V397.7h-1.7zM947.5 391.5h1.7V397.7h-1.7zM948.7 381.6h1.7V397.7h-1.7zM949.2 381.2h1.7V397.7h-1.7zM953.2 389.5h1.7V397.7h-1.7zM953.8 385.2h1.7V397.7h-1.7zM960.6 386.7h1.7V397.7h-1.7zM961.2 392h1.7V397.7h-1.7zM961.8 383.8h1.7V397.7h-1.7zM962.3 389.9h1.7V397.7h-1.7zM962.9 388.8h1.7V397.7h-1.7zM963.5 384.7h1.7V397.7h-1.7zM966.3 379.2h1.7V397.7h-1.7zM969.1 379.5h1.7V397.7h-1.7zM969.7 392.6h1.7V397.7h-1.7zM970.3 387h1.7V397.7h-1.7zM970.9 380h1.7V397.7h-1.7zM972.6 386h1.7V397.7h-1.7zM974.8 381.3h1.7V397.7h-1.7zM975.4 391.7h1.7V397.7h-1.7zM977.7 391.8h1.7V397.7h-1.7zM978.2 380.4h1.7V397.7h-1.7zM979.9 373.1h1.7V397.7h-1.7zM980.5 375.3h1.7V397.7h-1.7zM981.1 386.9h1.7V397.7h-1.7zM985.1 376.3h1.7V397.7h-1.7zM985.6 375.7h1.7V397.7h-1.7zM986.2 389.7h1.7V397.7h-1.7zM986.8 385.2h1.7V397.7h-1.7zM987.3 386h1.7V397.7h-1.7zM987.9 385.2h1.7V397.7h-1.7zM988.5 380.6h1.7V397.7h-1.7zM989 380.5h1.7V397.7h-1.7zM989.6 392.9h1.7V397.7h-1.7zM990.2 388.3h1.7V397.7h-1.7zM990.8 389.3h1.7V397.7h-1.7zM991.9 392.7h1.7V397.7h-1.7zM992.5 386.4h1.7V397.7h-1.7zM993.6 391.3h1.7V397.7h-1.7zM994.2 394.7h1.7V397.7h-1.7zM994.7 391.6h1.7V397.7h-1.7zM995.3 388.7h1.7V397.7h-1.7zM995.9 392.7h1.7V397.7h-1.7zM996.4 389.2h1.7V397.7h-1.7zM997 390.3h1.7V397.7h-1.7zM1000.4 386.6h1.7V397.7h-1.7zM1001.6 392.3h1.7V397.7h-1.7zM1002.1 387.4h1.7V397.7h-1.7zM1003.3 393.7h1.7V397.7h-1.7zM1003.8 391.4h1.7V397.7h-1.7zM1004.4 388.2h1.7V397.7h-1.7zM1005 388.5h1.7V397.7h-1.7zM1005.5 384.1h1.7V397.7h-1.7zM1006.1 385.1h1.7V397.7h-1.7zM1007.8 391.4h1.7V397.7h-1.7zM1008.4 393.1h1.7V397.7h-1.7zM1008.9 394.1h1.7V397.7h-1.7zM1009.5 388.2h1.7V397.7h-1.7zM1010.1 388.8h1.7V397.7h-1.7zM1010.6 387.5h1.7V397.7h-1.7zM1014.1 392h1.7V397.7h-1.7zM1014.6 391h1.7V397.7h-1.7zM1015.2 394.8h1.7V397.7h-1.7zM1017.5 391h1.7V397.7h-1.7zM1019.7 393.8h1.7V397.7h-1.7zM1022 391.3h1.7V397.7h-1.7zM1022.6 390.7h1.7V397.7h-1.7zM1023.2 394.9h1.7V397.7h-1.7zM1026 393.9h1.7V397.7h-1.7zM1032.3 392.8h1.7V397.7h-1.7zM1033.4 394.4h1.7V397.7h-1.7zM1034.5 389.5h1.7V397.7h-1.7zM1038.5 389.5h1.7V397.7h-1.7zM1039.1 388.2h1.7V397.7h-1.7zM1039.6 393h1.7V397.7h-1.7zM1040.2 385.2h1.7V397.7h-1.7zM1044.2 393h1.7V397.7h-1.7zM1044.8 388.1h1.7V397.7h-1.7zM1045.3 391.8h1.7V397.7h-1.7zM1045.9 392.9h1.7V397.7h-1.7zM1047 382.7h1.7V397.7h-1.7zM1047.6 389.7h1.7V397.7h-1.7zM1048.7 385.2h1.7V397.7h-1.7zM1049.9 383.2h1.7V397.7h-1.7zM1051.6 380.6h1.7V397.7h-1.7zM1052.1 383.8h1.7V397.7h-1.7zM1053.3 380.5h1.7V397.7h-1.7zM1055 380.8h1.7V397.7h-1.7zM1055.6 379.9h1.7V397.7h-1.7zM1056.1 377.5h1.7V397.7h-1.7zM1056.7 377.6h1.7V397.7h-1.7zM1057.8 389.8h1.7V397.7h-1.7zM1058.4 390h1.7V397.7h-1.7zM1059 386.5h1.7V397.7h-1.7zM1060.1 382.2h1.7V397.7h-1.7zM1061.2 379.6h1.7V397.7h-1.7zM1062.9 382.3h1.7V397.7h-1.7zM1063.5 387.9h1.7V397.7h-1.7zM1067.5 387.2h1.7V397.7h-1.7zM1068.1 382.1h1.7V397.7h-1.7zM1068.6 391.1h1.7V397.7h-1.7zM1069.2 380.1h1.7V397.7h-1.7zM1070.3 390.7h1.7V397.7h-1.7zM1072.6 389.8h1.7V397.7h-1.7zM1076.6 391.4h1.7V397.7h-1.7zM1079.4 389.9h1.7V397.7h-1.7zM1080.6 393.3h1.7V397.7h-1.7zM1081.7 390.5h1.7V397.7h-1.7zM1082.3 387.2h1.7V397.7h-1.7zM1084 390.8h1.7V397.7h-1.7zM1085.7 389.2h1.7V397.7h-1.7zM1088 380.7h1.7V397.7h-1.7zM1088.5 392.2h1.7V397.7h-1.7zM1089.1 386.5h1.7V397.7h-1.7zM1091.9 378.2h1.7V397.7h-1.7zM1093.1 388.4h1.7V397.7h-1.7zM1094.8 385.1h1.7V397.7h-1.7zM1095.4 381.1h1.7V397.7h-1.7zM1095.9 391.6h1.7V397.7h-1.7zM1096.5 379.6h1.7V397.7h-1.7zM1097.1 382.3h1.7V397.7h-1.7zM1097.6 389.4h1.7V397.7h-1.7zM1098.2 389.6h1.7V397.7h-1.7zM1102.7 391.1h1.7V397.7h-1.7zM1103.9 384.8h1.7V397.7h-1.7zM1104.5 389.7h1.7V397.7h-1.7zM1105 382.8h1.7V397.7h-1.7zM1106.7 389.4h1.7V397.7h-1.7zM1107.3 387.3h1.7V397.7h-1.7zM1107.9 385.8h1.7V397.7h-1.7zM1108.4 383.9h1.7V397.7h-1.7zM1109 383h1.7V397.7h-1.7zM1111.3 385.4h1.7V397.7h-1.7zM1113 387.3h1.7V397.7h-1.7zM1114.7 384.1h1.7V397.7h-1.7zM1115.3 391.7h1.7V397.7h-1.7zM1115.8 386.4h1.7V397.7h-1.7zM1117.5 388.8h1.7V397.7h-1.7zM1118.1 393.9h1.7V397.7h-1.7zM1118.7 394.3h1.7V397.7h-1.7zM1120.9 392.2h1.7V397.7h-1.7zM1122.1 393.1h1.7V397.7h-1.7zM1122.6 386.2h1.7V397.7h-1.7zM1123.8 385.3h1.7V397.7h-1.7zM1124.9 392.7h1.7V397.7h-1.7zM1125.5 385.4h1.7V397.7h-1.7zM1126.1 391h1.7V397.7h-1.7zM1128.3 384.5h1.7V397.7h-1.7zM1128.9 381.8h1.7V397.7h-1.7zM1129.5 383.6h1.7V397.7h-1.7zM1130 380.5h1.7V397.7h-1.7zM1132.3 385.7h1.7V397.7h-1.7zM1135.1 391h1.7V397.7h-1.7zM1136.9 393.1h1.7V397.7h-1.7zM1137.4 393.2h1.7V397.7h-1.7zM1138 388.8h1.7V397.7h-1.7zM1140.3 391.8h1.7V397.7h-1.7zM1143.1 388.2h1.7V397.7h-1.7zM1143.7 383.6h1.7V397.7h-1.7zM1144.2 388.9h1.7V397.7h-1.7zM1144.8 388h1.7V397.7h-1.7zM1146.5 390.1h1.7V397.7h-1.7zM1147.1 390.1h1.7V397.7h-1.7zM1148.2 373h1.7V397.7h-1.7zM1149.4 378.1h1.7V397.7h-1.7zM1149.9 390.8h1.7V397.7h-1.7zM1151.1 377.2h1.7V397.7h-1.7zM1151.6 387.2h1.7V397.7h-1.7zM1153.9 385h1.7V397.7h-1.7zM1154.5 374.8h1.7V397.7h-1.7zM1155 389.9h1.7V397.7h-1.7zM1156.2 384.2h1.7V397.7h-1.7zM1157.3 384.9h1.7V397.7h-1.7zM1157.9 390.6h1.7V397.7h-1.7zM1158.5 384.2h1.7V397.7h-1.7zM1159 390.1h1.7V397.7h-1.7zM1160.2 383.6h1.7V397.7h-1.7zM1160.7 378.7h1.7V397.7h-1.7zM1161.3 384.4h1.7V397.7h-1.7zM1164.1 385.5h1.7V397.7h-1.7zM1164.7 390.5h1.7V397.7h-1.7zM1165.3 386.1h1.7V397.7h-1.7zM1165.8 394.3h1.7V397.7h-1.7zM1167 391.2h1.7V397.7h-1.7zM1167.6 393.9h1.7V397.7h-1.7zM1168.1 387.3h1.7V397.7h-1.7zM1168.7 394.7h1.7V397.7h-1.7zM1169.3 394.6h1.7V397.7h-1.7zM1169.8 392.2h1.7V397.7h-1.7zM1172.7 390.3h1.7V397.7h-1.7zM1174.4 394.5h1.7V397.7h-1.7zM1174.9 391h1.7V397.7h-1.7zM1176.6 389.2h1.7V397.7h-1.7zM1178.4 387.3h1.7V397.7h-1.7zM1178.9 395h1.7V397.7h-1.7zM1180.1 394h1.7V397.7h-1.7zM1182.9 386.3h1.7V397.7h-1.7zM1184.6 394.1h1.7V397.7h-1.7zM1185.7 394.5h1.7V397.7h-1.7zM1187.5 388.7h1.7V397.7h-1.7zM1188 393.9h1.7V397.7h-1.7zM1188.6 389h1.7V397.7h-1.7zM1189.2 390.5h1.7V397.7h-1.7zM1189.7 386h1.7V397.7h-1.7zM1193.7 384.6h1.7V397.7h-1.7zM1194.3 382.7h1.7V397.7h-1.7zM80.9 383.8h2.2V397.7h-2.2zM83.9 379.5h2.2V397.7h-2.2zM87.4 390h2.2V397.7h-2.2zM90.7 382.5h2.2V397.7h-2.2zM91.9 367h2.2V397.7h-2.2zM94.9 377.5h2.2V397.7h-2.2zM98.9 386.2h2.2V397.7h-2.2zM102.4 387.5h2.2V397.7h-2.2zM105.7 392.5h2.2V397.7h-2.2zM110.7 366.2h2.2V397.7h-2.2zM113.2 373.8h2.2V397.7h-2.2zM115.7 363.8h2.2V397.7h-2.2zM120.7 365h2.2V397.7h-2.2zM124.4 388.8h2.2V397.7h-2.2zM134.4 357.5h2.2V397.7h-2.2zM138.2 372.5h2.2V397.7h-2.2zM141.9 380h2.2V397.7h-2.2zM145.7 377.5h2.2V397.7h-2.2zM150.7 382.5h2.2V397.7h-2.2zM154.4 373.8h2.2V397.7h-2.2zM163.2 387.5h2.2V397.7h-2.2zM168.2 392.5h2.2V397.7h-2.2zM170.7 381.2h2.2V397.7h-2.2zM174.4 366.2h2.2V397.7h-2.2zM176.9 382.5h2.2V397.7h-2.2zM183.2 386.2h2.2V397.7h-2.2zM188.2 381.2h2.2V397.7h-2.2zM194.4 388.8h2.2V397.7h-2.2zM198.2 383.8h2.2V397.7h-2.2zM204.4 388.8h2.2V397.7h-2.2zM208.2 381.2h2.2V397.7h-2.2zM211.9 383.8h2.2V397.7h-2.2zM214.4 386.2h2.2V397.7h-2.2zM219.4 378.8h2.2V397.7h-2.2zM221.9 380h2.2V397.7h-2.2zM231.9 387.5h2.2V397.7h-2.2zM239.4 372.5h2.2V397.7h-2.2zM241.9 387.5h2.2V397.7h-2.2zM249.4 368.8h2.2V397.7h-2.2zM255.7 377.5h2.2V397.7h-2.2zM258.1 365h2.2V397.7h-2.2zM261.9 362.5h2.2V397.7h-2.2zM265.6 377.5h2.2V397.7h-2.2zM271.9 371.2h2.2V397.7h-2.2zM275.6 373.8h2.2V397.7h-2.2zM107.2 180h2.2V397.7h-2.2zM127.5 310.6h2.2V397.7h-2.2zM130.9 316h2.2V397.7h-2.2zM246.4 323.8h2.2V397.7h-2.2zM252.4 343.8h2.2V397.7h-2.2zM279.4 340h2.2V397.7h-2.2zM313.1 350h2.2V397.7h-2.2zM351.9 352.5h2.2V397.7h-2.2zM358.1 347.5h2.2V397.7h-2.2zM369.4 320.5h2.2V397.7h-2.2zM380.6 353.8h2.2V397.7h-2.2zM390.6 346.2h2.2V397.7h-2.2zM441.9 336.2h2.2V397.7h-2.2zM461.9 338.8h2.2V397.7h-2.2zM470.6 321.2h2.2V397.7h-2.2zM309.4 367.5h2.2V397.7h-2.2zM344.4 360h2.2V397.7h-2.2zM416.9 357.5h2.2V397.7h-2.2zM446.9 360h2.2V397.7h-2.2zM287.8 284.7h2.2V397.7h-2.2zM291.9 309.7h2.2V397.7h-2.2zM326.3 306h2.2V397.7h-2.2zM364.7 306h2.2V397.7h-2.2zM423.8 208.1h2.2V397.7h-2.2zM445 306h2.2V397.7h-2.2zM480.6 364.5h2.2V397.7h-2.2zM486.4 364.5h2.2V397.7h-2.2zM494.4 357h2.2V397.7h-2.2zM509.4 367.5h2.2V397.7h-2.2zM529.4 370.5h2.2V397.7h-2.2zM546.9 374.5h2.2V397.7h-2.2zM565.6 373h2.2V397.7h-2.2zM584.4 373.8h2.2V397.7h-2.2zM593.1 360.5h2.2V397.7h-2.2zM639.4 343.8h2.2V397.7h-2.2zM645.6 354.5h2.2V397.7h-2.2zM653.1 371.2h2.2V397.7h-2.2zM675.6 372.5h2.2V397.7h-2.2zM635.9 311.2h2.2V397.7h-2.2zM680.6 375h2.2V397.7h-2.2zM711.9 365h2.2V397.7h-2.2zM714.4 375h2.2V397.7h-2.2zM761.9 345h2.2V397.7h-2.2zM766.9 365h2.2V397.7h-2.2zM754.4 370h2.2V397.7h-2.2zM759.4 355h2.2V397.7h-2.2zM780.6 377.5h2.2V397.7h-2.2zM799.4 372.5h2.2V397.7h-2.2zM811.1 336.2h2.2V397.7h-2.2zM828.6 353h2.2V397.7h-2.2zM839.4 366.2h2.2V397.7h-2.2zM847.4 350.5h2.2V397.7h-2.2zM860.6 374.5h2.2V397.7h-2.2zM874.4 376.2h2.2V397.7h-2.2zM746.9 331.2h2.2V397.7h-2.2zM882.4 380h2.2V397.7h-2.2zM901.9 377.5h2.2V397.7h-2.2zM922.4 372h2.2V397.7h-2.2zM931.4 375.5h2.2V397.7h-2.2zM936.1 378h2.2V397.7h-2.2zM948.1 377h2.2V397.7h-2.2zM954.4 367.5h2.2V397.7h-2.2zM959.4 378.8h2.2V397.7h-2.2zM971.4 373.8h2.2V397.7h-2.2zM978.1 372.5h2.2V397.7h-2.2zM983.1 367h2.2V397.7h-2.2zM986.1 363.8h2.2V397.7h-2.2zM999.4 379.5h2.2V397.7h-2.2zM1017.4 381.2h2.2V397.7h-2.2zM1029.4 383h2.2V397.7h-2.2zM1034.4 383h2.2V397.7h-2.2zM907.5 304.4h2.2V397.7h-2.2zM905.2 360h2.2V397.7h-2.2zM906.2 358h2.2V397.7h-2.2zM909.3 360h2.2V397.7h-2.2zM1039.4 386.2h2.2V397.7h-2.2zM1044.4 387.5h2.2V397.7h-2.2zM1054.9 370h2.2V397.7h-2.2zM1066.4 378.8h2.2V397.7h-2.2zM1076.4 373h2.2V397.7h-2.2zM1081.2 368.8h2.2V397.7h-2.2zM1091.4 366.2h2.2V397.7h-2.2zM1096.9 368.8h2.2V397.7h-2.2zM1105.7 380.5h2.2V397.7h-2.2zM1116.4 372.5h2.2V397.7h-2.2zM1131.4 375.5h2.2V397.7h-2.2zM1138.7 355.5h2.2V397.7h-2.2zM1143.2 372h2.2V397.7h-2.2zM1150.7 336.2h2.2V397.7h-2.2zM1159.4 381.2h2.2V397.7h-2.2zM1166.4 373h2.2V397.7h-2.2zM1172.4 386.2h2.2V397.7h-2.2zM1190.7 383.8h2.2V397.7h-2.2zM1152.9 316h2.2V397.7h-2.2zM1187.7 331.8h2.2V397.7h-2.2z"/>
<path fill="#ec1111" d="M84.6 397.7h1.7V408h-1.7zM85.1 397.7h1.7V404.1h-1.7zM88.5 397.7h1.7V405h-1.7zM89.1 397.7h1.7V403.6h-1.7zM89.7 397.7h1.7V409.5h-1.7zM90.2 397.7h1.7V408.4h-1.7zM90.8 397.7h1.7V402.7h-1.7zM91.4 397.7h1.7V410.6h-1.7zM92 397.7h1.7V405.4h-1.7zM92.5 397.7h1.7V407.4h-1.7zM94.2 397.7h1.7V408.6h-1.7zM94.8 397.7h1.7V411.8h-1.7zM95.4 397.7h1.7V416h-1.7zM97.1 397.7h1.7V402.8h-1.7zM97.6 397.7h1.7V412.3h-1.7zM98.2 397.7h1.7V414.2h-1.7zM98.8 397.7h1.7V411.2h-1.7zM99.3 397.7h1.7V409.4h-1.7zM100.5 397.7h1.7V407.8h-1.7zM101.6 397.7h1.7V410.8h-1.7zM102.2 397.7h1.7V414.3h-1.7zM104.5 397.7h1.7V403.6h-1.7zM105 397.7h1.7V404.3h-1.7zM106.7 397.7h1.7V411.1h-1.7zM108.4 397.7h1.7V408.4h-1.7zM109 397.7h1.7V420.1h-1.7zM109.6 397.7h1.7V405.9h-1.7zM110.1 397.7h1.7V406.7h-1.7zM110.7 397.7h1.7V413.2h-1.7zM111.3 397.7h1.7V404.3h-1.7zM111.8 397.7h1.7V409.4h-1.7zM114.1 397.7h1.7V421.5h-1.7zM115.8 397.7h1.7V405.6h-1.7zM116.4 397.7h1.7V405.1h-1.7zM117 397.7h1.7V407.1h-1.7zM117.5 397.7h1.7V409.4h-1.7zM118.1 397.7h1.7V404.6h-1.7zM118.7 397.7h1.7V405.6h-1.7zM121.5 397.7h1.7V420.3h-1.7zM122.1 397.7h1.7V411.8h-1.7zM122.7 397.7h1.7V405.4h-1.7zM123.2 397.7h1.7V409.4h-1.7zM123.8 397.7h1.7V419.8h-1.7zM126.1 397.7h1.7V413.1h-1.7zM127.8 397.7h1.7V406.5h-1.7zM129.5 397.7h1.7V419.4h-1.7zM130.6 397.7h1.7V419.6h-1.7zM131.2 397.7h1.7V407.4h-1.7zM131.7 397.7h1.7V409.7h-1.7zM132.3 397.7h1.7V404.8h-1.7zM134 397.7h1.7V422.4h-1.7zM134.6 397.7h1.7V422.9h-1.7zM135.2 397.7h1.7V407.3h-1.7zM135.7 397.7h1.7V407h-1.7zM137.4 397.7h1.7V415.8h-1.7zM138.6 397.7h1.7V421.8h-1.7zM139.1 397.7h1.7V418h-1.7zM140.3 397.7h1.7V409.3h-1.7zM140.8 397.7h1.7V423.3h-1.7zM143.1 397.7h1.7V421.6h-1.7zM144.3 397.7h1.7V423.5h-1.7zM144.8 397.7h1.7V409.6h-1.7zM145.4 397.7h1.7V406h-1.7zM146.5 397.7h1.7V412.7h-1.7zM149.9 397.7h1.7V405.3h-1.7zM150.5 397.7h1.7V408.3h-1.7zM151.6 397.7h1.7V409.1h-1.7zM152.2 397.7h1.7V410.2h-1.7zM152.8 397.7h1.7V410.6h-1.7zM153.3 397.7h1.7V408.9h-1.7zM156.2 397.7h1.7V409.7h-1.7zM156.8 397.7h1.7V403.7h-1.7zM157.3 397.7h1.7V405.1h-1.7zM157.9 397.7h1.7V412.9h-1.7zM160.2 397.7h1.7V408.4h-1.7zM160.7 397.7h1.7V407.5h-1.7zM161.9 397.7h1.7V411.6h-1.7zM162.4 397.7h1.7V416.2h-1.7zM165.3 397.7h1.7V403.7h-1.7zM166.4 397.7h1.7V404.7h-1.7zM167 397.7h1.7V412.5h-1.7zM168.1 397.7h1.7V405.7h-1.7zM168.7 397.7h1.7V408.5h-1.7zM173.8 397.7h1.7V404.6h-1.7zM175.5 397.7h1.7V404.4h-1.7zM176.1 397.7h1.7V407.4h-1.7zM177.8 397.7h1.7V405.6h-1.7zM180.1 397.7h1.7V404.7h-1.7zM181.2 397.7h1.7V404.8h-1.7zM182.9 397.7h1.7V412.4h-1.7zM183.5 397.7h1.7V407.4h-1.7zM184 397.7h1.7V411.9h-1.7zM184.6 397.7h1.7V405.1h-1.7zM185.2 397.7h1.7V404.5h-1.7zM185.8 397.7h1.7V408.1h-1.7zM186.3 397.7h1.7V416.7h-1.7zM186.9 397.7h1.7V411.4h-1.7zM187.5 397.7h1.7V408.7h-1.7zM188 397.7h1.7V407.1h-1.7zM188.6 397.7h1.7V416.1h-1.7zM189.2 397.7h1.7V406.2h-1.7zM189.7 397.7h1.7V420.6h-1.7zM190.3 397.7h1.7V418h-1.7zM192 397.7h1.7V415.2h-1.7zM193.1 397.7h1.7V415.6h-1.7zM193.7 397.7h1.7V409.7h-1.7zM194.3 397.7h1.7V404.5h-1.7zM196 397.7h1.7V404.8h-1.7zM198.8 397.7h1.7V407.3h-1.7zM199.4 397.7h1.7V421.5h-1.7zM205.7 397.7h1.7V416.5h-1.7zM207.9 397.7h1.7V414.8h-1.7zM209.1 397.7h1.7V417.6h-1.7zM210.8 397.7h1.7V409.4h-1.7zM211.9 397.7h1.7V410.3h-1.7zM214.2 397.7h1.7V403.1h-1.7zM215.3 397.7h1.7V409h-1.7zM215.9 397.7h1.7V407.2h-1.7zM219.9 397.7h1.7V409h-1.7zM220.4 397.7h1.7V406h-1.7zM225 397.7h1.7V409.8h-1.7zM225.5 397.7h1.7V410.3h-1.7zM226.1 397.7h1.7V408h-1.7zM226.7 397.7h1.7V407.6h-1.7zM227.3 397.7h1.7V414.8h-1.7zM229 397.7h1.7V414h-1.7zM229.5 397.7h1.7V408.3h-1.7zM232.9 397.7h1.7V417.3h-1.7zM236.4 397.7h1.7V407.3h-1.7zM238.1 397.7h1.7V418.6h-1.7zM238.6 397.7h1.7V418.1h-1.7zM239.2 397.7h1.7V408.2h-1.7zM239.8 397.7h1.7V420.2h-1.7zM240.3 397.7h1.7V408h-1.7zM240.9 397.7h1.7V406.7h-1.7zM242 397.7h1.7V406.9h-1.7zM242.6 397.7h1.7V406.3h-1.7zM243.2 397.7h1.7V410.5h-1.7zM244.3 397.7h1.7V417.7h-1.7zM247.2 397.7h1.7V414.6h-1.7zM247.7 397.7h1.7V406.6h-1.7zM248.3 397.7h1.7V417.8h-1.7zM248.9 397.7h1.7V409.4h-1.7zM252.3 397.7h1.7V405h-1.7zM252.8 397.7h1.7V409.2h-1.7zM256.2 397.7h1.7V409.6h-1.7zM256.8 397.7h1.7V412.5h-1.7zM257.4 397.7h1.7V407.1h-1.7zM258 397.7h1.7V406.6h-1.7zM258.5 397.7h1.7V403h-1.7zM259.1 397.7h1.7V415.8h-1.7zM261.9 397.7h1.7V415.6h-1.7zM262.5 397.7h1.7V414.2h-1.7zM264.8 397.7h1.7V406.7h-1.7zM267 397.7h1.7V408.5h-1.7zM268.2 397.7h1.7V410.4h-1.7zM268.8 397.7h1.7V407.6h-1.7zM269.9 397.7h1.7V404.7h-1.7zM270.5 397.7h1.7V410.4h-1.7zM271 397.7h1.7V403.6h-1.7zM275 397.7h1.7V416.8h-1.7zM275.6 397.7h1.7V415.7h-1.7zM276.1 397.7h1.7V405.3h-1.7zM277.9 397.7h1.7V409.3h-1.7zM278.4 397.7h1.7V408.3h-1.7zM281.3 397.7h1.7V415.5h-1.7zM281.8 397.7h1.7V410.1h-1.7zM282.4 397.7h1.7V419.3h-1.7zM283 397.7h1.7V416.2h-1.7zM284.1 397.7h1.7V407h-1.7zM284.7 397.7h1.7V410.3h-1.7zM285.2 397.7h1.7V406h-1.7zM286.9 397.7h1.7V406.2h-1.7zM287.5 397.7h1.7V405.5h-1.7zM288.1 397.7h1.7V404.5h-1.7zM289.2 397.7h1.7V417.3h-1.7zM289.8 397.7h1.7V422h-1.7zM294.9 397.7h1.7V411.6h-1.7zM295.5 397.7h1.7V423.8h-1.7zM296 397.7h1.7V406.4h-1.7zM298.3 397.7h1.7V414.5h-1.7zM298.9 397.7h1.7V424.3h-1.7zM299.5 397.7h1.7V406.9h-1.7zM300 397.7h1.7V429h-1.7zM302.3 397.7h1.7V411h-1.7zM302.9 397.7h1.7V412.2h-1.7zM304 397.7h1.7V427.8h-1.7zM304.6 397.7h1.7V428.7h-1.7zM305.1 397.7h1.7V409.5h-1.7zM308 397.7h1.7V420.6h-1.7zM310.8 397.7h1.7V406.4h-1.7zM311.4 397.7h1.7V407.1h-1.7zM312 397.7h1.7V404.1h-1.7zM313.1 397.7h1.7V417.5h-1.7zM313.7 397.7h1.7V406h-1.7zM314.2 397.7h1.7V404h-1.7zM314.8 397.7h1.7V412.3h-1.7zM315.4 397.7h1.7V405.1h-1.7zM316.5 397.7h1.7V412.1h-1.7zM317.1 397.7h1.7V410.7h-1.7zM317.6 397.7h1.7V413.6h-1.7zM318.2 397.7h1.7V409.2h-1.7zM318.8 397.7h1.7V411.9h-1.7zM319.4 397.7h1.7V404.9h-1.7zM321.1 397.7h1.7V406.8h-1.7zM321.6 397.7h1.7V408.8h-1.7zM323.3 397.7h1.7V409.3h-1.7zM327.3 397.7h1.7V407.4h-1.7zM327.9 397.7h1.7V421.3h-1.7zM328.4 397.7h1.7V414.1h-1.7zM329 397.7h1.7V407.1h-1.7zM329.6 397.7h1.7V406.2h-1.7zM330.2 397.7h1.7V408.4h-1.7zM330.7 397.7h1.7V416.5h-1.7zM331.3 397.7h1.7V405.2h-1.7zM331.9 397.7h1.7V417.8h-1.7zM332.4 397.7h1.7V410.1h-1.7zM333 397.7h1.7V421.4h-1.7zM333.6 397.7h1.7V406.2h-1.7zM334.1 397.7h1.7V412.3h-1.7zM334.7 397.7h1.7V418h-1.7zM336.4 397.7h1.7V411h-1.7zM337 397.7h1.7V411.1h-1.7zM337.5 397.7h1.7V412.8h-1.7zM339.8 397.7h1.7V407.2h-1.7zM341 397.7h1.7V416.1h-1.7zM341.5 397.7h1.7V418.4h-1.7zM342.1 397.7h1.7V408h-1.7zM343.2 397.7h1.7V410h-1.7zM343.8 397.7h1.7V417.2h-1.7zM344.4 397.7h1.7V411.7h-1.7zM346.1 397.7h1.7V434.3h-1.7zM346.6 397.7h1.7V414.1h-1.7zM348.9 397.7h1.7V443.2h-1.7zM349.5 397.7h1.7V439.7h-1.7zM350.1 397.7h1.7V438h-1.7zM353.5 397.7h1.7V436.2h-1.7zM354 397.7h1.7V411.8h-1.7zM354.6 397.7h1.7V437.9h-1.7zM355.2 397.7h1.7V441.9h-1.7zM355.7 397.7h1.7V431.1h-1.7zM356.3 397.7h1.7V432.5h-1.7zM356.9 397.7h1.7V423.9h-1.7zM359.7 397.7h1.7V439.1h-1.7zM360.3 397.7h1.7V425.8h-1.7zM360.9 397.7h1.7V426.4h-1.7zM361.4 397.7h1.7V413.7h-1.7zM362 397.7h1.7V412.8h-1.7zM362.6 397.7h1.7V425.7h-1.7zM363.1 397.7h1.7V430.7h-1.7zM366 397.7h1.7V435.3h-1.7zM367.1 397.7h1.7V412.2h-1.7zM368.8 397.7h1.7V428h-1.7zM369.4 397.7h1.7V407.9h-1.7zM369.9 397.7h1.7V425.5h-1.7zM370.5 397.7h1.7V428.3h-1.7zM371.1 397.7h1.7V425.8h-1.7zM373.9 397.7h1.7V407.1h-1.7zM375.1 397.7h1.7V407.2h-1.7zM375.6 397.7h1.7V406.4h-1.7zM376.2 397.7h1.7V416.8h-1.7zM376.8 397.7h1.7V422.7h-1.7zM377.9 397.7h1.7V406.3h-1.7zM378.5 397.7h1.7V416.8h-1.7zM379 397.7h1.7V421h-1.7zM379.6 397.7h1.7V426.2h-1.7zM382.5 397.7h1.7V417.4h-1.7zM385.3 397.7h1.7V414.7h-1.7zM385.9 397.7h1.7V407.1h-1.7zM386.4 397.7h1.7V418.2h-1.7zM387 397.7h1.7V405.6h-1.7zM387.6 397.7h1.7V406.8h-1.7zM388.1 397.7h1.7V408.7h-1.7zM388.7 397.7h1.7V416.8h-1.7zM389.3 397.7h1.7V417.6h-1.7zM391 397.7h1.7V406.7h-1.7zM392.7 397.7h1.7V405.7h-1.7zM393.3 397.7h1.7V416.1h-1.7zM393.8 397.7h1.7V418.2h-1.7zM395 397.7h1.7V409.2h-1.7zM395.5 397.7h1.7V406h-1.7zM396.1 397.7h1.7V412.5h-1.7zM398.9 397.7h1.7V414.8h-1.7zM399.5 397.7h1.7V422.6h-1.7zM400.1 397.7h1.7V410.4h-1.7zM401.2 397.7h1.7V422.1h-1.7zM404.6 397.7h1.7V411.8h-1.7zM407.5 397.7h1.7V410.8h-1.7zM408 397.7h1.7V429.8h-1.7zM408.6 397.7h1.7V427.5h-1.7zM409.2 397.7h1.7V411h-1.7zM411.4 397.7h1.7V410.9h-1.7zM412.6 397.7h1.7V422.3h-1.7zM413.7 397.7h1.7V423.6h-1.7zM415.4 397.7h1.7V410.6h-1.7zM417.1 397.7h1.7V408.6h-1.7zM417.7 397.7h1.7V413.7h-1.7zM418.3 397.7h1.7V407.4h-1.7zM419.4 397.7h1.7V423.6h-1.7zM420 397.7h1.7V407.9h-1.7zM421.1 397.7h1.7V427.5h-1.7zM422.2 397.7h1.7V430.6h-1.7zM422.8 397.7h1.7V408.6h-1.7zM423.4 397.7h1.7V408.7h-1.7zM424.5 397.7h1.7V421.7h-1.7zM425.1 397.7h1.7V421.6h-1.7zM425.7 397.7h1.7V408.4h-1.7zM426.2 397.7h1.7V424.4h-1.7zM426.8 397.7h1.7V412.5h-1.7zM427.4 397.7h1.7V406.5h-1.7zM430.8 397.7h1.7V412.3h-1.7zM434.2 397.7h1.7V415.4h-1.7zM434.8 397.7h1.7V403.7h-1.7zM436.5 397.7h1.7V406.6h-1.7zM438.7 397.7h1.7V402.8h-1.7zM439.9 397.7h1.7V409.9h-1.7zM440.4 397.7h1.7V408.9h-1.7zM441 397.7h1.7V405.9h-1.7zM441.6 397.7h1.7V412.8h-1.7zM442.1 397.7h1.7V412.7h-1.7zM442.7 397.7h1.7V403.7h-1.7zM443.3 397.7h1.7V412.9h-1.7zM445 397.7h1.7V407.6h-1.7zM446.7 397.7h1.7V403.4h-1.7zM450.7 397.7h1.7V411.5h-1.7zM451.2 397.7h1.7V404.1h-1.7zM451.8 397.7h1.7V405.1h-1.7zM452.4 397.7h1.7V409.2h-1.7zM452.9 397.7h1.7V406.4h-1.7zM454.1 397.7h1.7V403.8h-1.7zM454.7 397.7h1.7V403.9h-1.7zM456.4 397.7h1.7V405.3h-1.7zM456.9 397.7h1.7V404.3h-1.7zM457.5 397.7h1.7V408.3h-1.7zM460.3 397.7h1.7V408.7h-1.7zM460.9 397.7h1.7V418.2h-1.7zM462.6 397.7h1.7V414.5h-1.7zM463.8 397.7h1.7V417.1h-1.7zM464.3 397.7h1.7V412.9h-1.7zM466 397.7h1.7V415.7h-1.7zM466.6 397.7h1.7V412.7h-1.7zM467.2 397.7h1.7V409h-1.7zM467.7 397.7h1.7V412.6h-1.7zM468.9 397.7h1.7V405.4h-1.7zM469.4 397.7h1.7V415.6h-1.7zM471.1 397.7h1.7V405.2h-1.7zM471.7 397.7h1.7V418.9h-1.7zM472.3 397.7h1.7V404.5h-1.7zM473.4 397.7h1.7V410.6h-1.7zM474 397.7h1.7V416.6h-1.7zM475.1 397.7h1.7V405.8h-1.7zM476.3 397.7h1.7V404.7h-1.7zM476.8 397.7h1.7V407.9h-1.7zM477.4 397.7h1.7V406.7h-1.7zM478 397.7h1.7V403.7h-1.7zM479.7 397.7h1.7V406h-1.7zM480.2 397.7h1.7V418.9h-1.7zM481.9 397.7h1.7V404.8h-1.7zM483.6 397.7h1.7V406.2h-1.7zM484.8 397.7h1.7V416.9h-1.7zM485.4 397.7h1.7V410.2h-1.7zM485.9 397.7h1.7V411.6h-1.7zM486.5 397.7h1.7V417.4h-1.7zM487.1 397.7h1.7V417.8h-1.7zM487.6 397.7h1.7V408.8h-1.7zM488.2 397.7h1.7V409.7h-1.7zM490.5 397.7h1.7V409.9h-1.7zM491 397.7h1.7V414.3h-1.7zM492.2 397.7h1.7V404.5h-1.7zM493.3 397.7h1.7V405.5h-1.7zM493.9 397.7h1.7V414h-1.7zM496.2 397.7h1.7V407h-1.7zM496.7 397.7h1.7V408.8h-1.7zM497.9 397.7h1.7V406.2h-1.7zM499 397.7h1.7V415.7h-1.7zM500.1 397.7h1.7V406.9h-1.7zM501.3 397.7h1.7V411.6h-1.7zM501.8 397.7h1.7V414.1h-1.7zM502.4 397.7h1.7V408h-1.7zM503 397.7h1.7V413h-1.7zM503.5 397.7h1.7V412.7h-1.7zM504.1 397.7h1.7V413.2h-1.7zM505.3 397.7h1.7V405.3h-1.7zM505.8 397.7h1.7V413.2h-1.7zM508.1 397.7h1.7V417.7h-1.7zM508.7 397.7h1.7V405.8h-1.7zM509.8 397.7h1.7V410.9h-1.7zM510.4 397.7h1.7V414.9h-1.7zM510.9 397.7h1.7V424.9h-1.7zM512.1 397.7h1.7V410.7h-1.7zM512.6 397.7h1.7V410.8h-1.7zM516.6 397.7h1.7V411.8h-1.7zM518.9 397.7h1.7V413.2h-1.7zM522.3 397.7h1.7V411.2h-1.7zM522.9 397.7h1.7V415.6h-1.7zM526.9 397.7h1.7V412.5h-1.7zM527.4 397.7h1.7V410.6h-1.7zM530.3 397.7h1.7V410.4h-1.7zM530.8 397.7h1.7V402.9h-1.7zM531.4 397.7h1.7V402.9h-1.7zM532 397.7h1.7V413.3h-1.7zM532.5 397.7h1.7V415.5h-1.7zM533.1 397.7h1.7V402.8h-1.7zM536.5 397.7h1.7V403.1h-1.7zM537.7 397.7h1.7V403.8h-1.7zM538.2 397.7h1.7V404.3h-1.7zM538.8 397.7h1.7V413.3h-1.7zM539.4 397.7h1.7V413.8h-1.7zM540.5 397.7h1.7V413.7h-1.7zM541.1 397.7h1.7V414h-1.7zM542.2 397.7h1.7V409.5h-1.7zM543.9 397.7h1.7V403.7h-1.7zM544.5 397.7h1.7V416.4h-1.7zM545.6 397.7h1.7V405.2h-1.7zM546.2 397.7h1.7V410.1h-1.7zM546.8 397.7h1.7V408.1h-1.7zM547.9 397.7h1.7V405h-1.7zM549.6 397.7h1.7V408.4h-1.7zM551.3 397.7h1.7V404.1h-1.7zM553 397.7h1.7V419.7h-1.7zM553.6 397.7h1.7V412.2h-1.7zM554.7 397.7h1.7V408.3h-1.7zM557.6 397.7h1.7V416.3h-1.7zM558.7 397.7h1.7V415.4h-1.7zM559.3 397.7h1.7V411h-1.7zM560.4 397.7h1.7V412.3h-1.7zM561 397.7h1.7V406.4h-1.7zM562.1 397.7h1.7V404.2h-1.7zM562.7 397.7h1.7V414h-1.7zM564.4 397.7h1.7V404h-1.7zM564.9 397.7h1.7V410.1h-1.7zM566.6 397.7h1.7V406.7h-1.7zM567.2 397.7h1.7V409.6h-1.7zM567.8 397.7h1.7V404.4h-1.7zM568.4 397.7h1.7V402h-1.7zM571.8 397.7h1.7V400.6h-1.7zM572.3 397.7h1.7V405.8h-1.7zM572.9 397.7h1.7V404.1h-1.7zM573.5 397.7h1.7V403.8h-1.7zM576.3 397.7h1.7V408.9h-1.7zM579.2 397.7h1.7V405.7h-1.7zM581.4 397.7h1.7V402h-1.7zM582 397.7h1.7V403.2h-1.7zM584.3 397.7h1.7V412.1h-1.7zM584.8 397.7h1.7V403.2h-1.7zM585.4 397.7h1.7V403.5h-1.7zM587.1 397.7h1.7V409.2h-1.7zM588.8 397.7h1.7V408h-1.7zM589.4 397.7h1.7V406.7h-1.7zM593.9 397.7h1.7V400.6h-1.7zM595.1 397.7h1.7V406.6h-1.7zM595.6 397.7h1.7V400.8h-1.7zM596.8 397.7h1.7V405.5h-1.7zM597.3 397.7h1.7V402.2h-1.7zM597.9 397.7h1.7V404.9h-1.7zM598.5 397.7h1.7V403.1h-1.7zM599.1 397.7h1.7V400.9h-1.7zM599.6 397.7h1.7V404h-1.7zM603 397.7h1.7V402.3h-1.7zM604.2 397.7h1.7V400.8h-1.7zM604.7 397.7h1.7V405.9h-1.7zM605.3 397.7h1.7V404.1h-1.7zM605.9 397.7h1.7V402.5h-1.7zM607 397.7h1.7V410.5h-1.7zM607.6 397.7h1.7V401.5h-1.7zM608.1 397.7h1.7V409.7h-1.7zM608.7 397.7h1.7V408.1h-1.7zM609.3 397.7h1.7V411.3h-1.7zM609.9 397.7h1.7V409.5h-1.7zM610.4 397.7h1.7V402.3h-1.7zM611 397.7h1.7V410.3h-1.7zM611.6 397.7h1.7V402.9h-1.7zM612.1 397.7h1.7V411.4h-1.7zM612.7 397.7h1.7V406.9h-1.7zM616.1 397.7h1.7V407.4h-1.7zM616.7 397.7h1.7V410h-1.7zM617.2 397.7h1.7V403h-1.7zM617.8 397.7h1.7V408.9h-1.7zM618.4 397.7h1.7V408.8h-1.7zM619 397.7h1.7V410h-1.7zM621.8 397.7h1.7V402.8h-1.7zM622.4 397.7h1.7V404.4h-1.7zM622.9 397.7h1.7V404.4h-1.7zM623.5 397.7h1.7V401.4h-1.7zM624.1 397.7h1.7V405.1h-1.7zM625.2 397.7h1.7V409.1h-1.7zM626.3 397.7h1.7V404.1h-1.7zM630.3 397.7h1.7V402.5h-1.7zM630.9 397.7h1.7V401.1h-1.7zM631.5 397.7h1.7V406.6h-1.7zM632 397.7h1.7V401h-1.7zM632.6 397.7h1.7V405.2h-1.7zM633.2 397.7h1.7V406.3h-1.7zM636.6 397.7h1.7V405.2h-1.7zM637.1 397.7h1.7V401.5h-1.7zM637.7 397.7h1.7V406.8h-1.7zM640 397.7h1.7V403.4h-1.7zM640.6 397.7h1.7V407.1h-1.7zM641.1 397.7h1.7V402.2h-1.7zM642.3 397.7h1.7V407.4h-1.7zM644 397.7h1.7V409.1h-1.7zM644.5 397.7h1.7V402.3h-1.7zM645.1 397.7h1.7V405.6h-1.7zM645.7 397.7h1.7V404.7h-1.7zM646.2 397.7h1.7V404h-1.7zM646.8 397.7h1.7V401h-1.7zM647.9 397.7h1.7V409.8h-1.7zM650.8 397.7h1.7V406.3h-1.7zM651.4 397.7h1.7V407.6h-1.7zM651.9 397.7h1.7V406.4h-1.7zM652.5 397.7h1.7V412.5h-1.7zM658.7 397.7h1.7V409.3h-1.7zM664.4 397.7h1.7V405.3h-1.7zM667.3 397.7h1.7V407.4h-1.7zM667.8 397.7h1.7V403.4h-1.7zM669.5 397.7h1.7V406.2h-1.7zM671.3 397.7h1.7V411.7h-1.7zM671.8 397.7h1.7V412.1h-1.7zM674.7 397.7h1.7V407.7h-1.7zM675.2 397.7h1.7V408.6h-1.7zM679.2 397.7h1.7V411h-1.7zM679.8 397.7h1.7V407h-1.7zM680.3 397.7h1.7V403.3h-1.7zM680.9 397.7h1.7V403h-1.7zM681.5 397.7h1.7V407.8h-1.7zM682.1 397.7h1.7V412.6h-1.7zM683.8 397.7h1.7V405.6h-1.7zM684.3 397.7h1.7V401.9h-1.7zM684.9 397.7h1.7V407.3h-1.7zM686 397.7h1.7V407h-1.7zM686.6 397.7h1.7V406.7h-1.7zM687.2 397.7h1.7V408.9h-1.7zM687.7 397.7h1.7V404.9h-1.7zM690.6 397.7h1.7V407.4h-1.7zM691.2 397.7h1.7V412.8h-1.7zM692.9 397.7h1.7V406.9h-1.7zM693.4 397.7h1.7V403h-1.7zM695.1 397.7h1.7V411.8h-1.7zM699.1 397.7h1.7V404.8h-1.7zM699.7 397.7h1.7V408.2h-1.7zM700.8 397.7h1.7V404.3h-1.7zM701.4 397.7h1.7V401.8h-1.7zM702 397.7h1.7V411h-1.7zM702.5 397.7h1.7V408.6h-1.7zM703.1 397.7h1.7V406.5h-1.7zM704.2 397.7h1.7V406.9h-1.7zM704.8 397.7h1.7V407.4h-1.7zM705.4 397.7h1.7V402.6h-1.7zM705.9 397.7h1.7V409.9h-1.7zM706.5 397.7h1.7V402.4h-1.7zM707.6 397.7h1.7V407.9h-1.7zM708.2 397.7h1.7V402.1h-1.7zM708.8 397.7h1.7V410h-1.7zM709.3 397.7h1.7V409.3h-1.7zM709.9 397.7h1.7V403h-1.7zM712.2 397.7h1.7V402.1h-1.7zM713.3 397.7h1.7V405.8h-1.7zM713.9 397.7h1.7V403.7h-1.7zM715 397.7h1.7V404.4h-1.7zM715.6 397.7h1.7V410.7h-1.7zM716.7 397.7h1.7V406.5h-1.7zM717.3 397.7h1.7V403.7h-1.7zM717.9 397.7h1.7V409.3h-1.7zM719 397.7h1.7V406.3h-1.7zM719.6 397.7h1.7V403.7h-1.7zM720.1 397.7h1.7V404.9h-1.7zM720.7 397.7h1.7V412.9h-1.7zM721.3 397.7h1.7V407.1h-1.7zM721.8 397.7h1.7V406.7h-1.7zM722.4 397.7h1.7V405.1h-1.7zM725.8 397.7h1.7V402.4h-1.7zM726.4 397.7h1.7V401.8h-1.7zM727 397.7h1.7V409.5h-1.7zM728.7 397.7h1.7V403.7h-1.7zM729.8 397.7h1.7V402.4h-1.7zM730.4 397.7h1.7V404.9h-1.7zM730.9 397.7h1.7V404.4h-1.7zM731.5 397.7h1.7V406.8h-1.7zM732.1 397.7h1.7V409h-1.7zM732.7 397.7h1.7V403.3h-1.7zM733.2 397.7h1.7V405.4h-1.7zM733.8 397.7h1.7V408.1h-1.7zM734.4 397.7h1.7V404.5h-1.7zM735.5 397.7h1.7V403.3h-1.7zM736.1 397.7h1.7V405h-1.7zM736.6 397.7h1.7V403.4h-1.7zM737.8 397.7h1.7V402.8h-1.7zM738.3 397.7h1.7V401.3h-1.7zM738.9 397.7h1.7V403.1h-1.7zM739.5 397.7h1.7V402.6h-1.7zM740 397.7h1.7V402.7h-1.7zM741.7 397.7h1.7V408.5h-1.7zM743.5 397.7h1.7V400.9h-1.7zM744 397.7h1.7V405.9h-1.7zM746.9 397.7h1.7V401.3h-1.7zM752 397.7h1.7V402.9h-1.7zM752.5 397.7h1.7V402.1h-1.7zM755.4 397.7h1.7V400.4h-1.7zM757.7 397.7h1.7V405.4h-1.7zM758.2 397.7h1.7V402h-1.7zM758.8 397.7h1.7V407.7h-1.7zM759.9 397.7h1.7V406.3h-1.7zM760.5 397.7h1.7V405.8h-1.7zM763.4 397.7h1.7V408.3h-1.7zM763.9 397.7h1.7V403.4h-1.7zM767.3 397.7h1.7V410.8h-1.7zM767.9 397.7h1.7V404.4h-1.7zM768.5 397.7h1.7V408.4h-1.7zM769 397.7h1.7V415.3h-1.7zM770.7 397.7h1.7V405.9h-1.7zM771.9 397.7h1.7V404h-1.7zM772.4 397.7h1.7V409.7h-1.7zM775.3 397.7h1.7V404.3h-1.7zM775.9 397.7h1.7V407.5h-1.7zM776.4 397.7h1.7V405.6h-1.7zM777 397.7h1.7V406.1h-1.7zM777.6 397.7h1.7V402.8h-1.7zM778.7 397.7h1.7V402.7h-1.7zM779.3 397.7h1.7V414h-1.7zM779.8 397.7h1.7V402.7h-1.7zM780.4 397.7h1.7V405.9h-1.7zM781 397.7h1.7V407.3h-1.7zM782.1 397.7h1.7V408h-1.7zM782.7 397.7h1.7V408h-1.7zM783.2 397.7h1.7V403.2h-1.7zM785 397.7h1.7V402.5h-1.7zM786.1 397.7h1.7V402.2h-1.7zM788.9 397.7h1.7V403.2h-1.7zM789.5 397.7h1.7V402.2h-1.7zM790.6 397.7h1.7V407.6h-1.7zM794 397.7h1.7V403.9h-1.7zM794.6 397.7h1.7V401.2h-1.7zM795.2 397.7h1.7V403.8h-1.7zM795.8 397.7h1.7V406.5h-1.7zM797.5 397.7h1.7V402.5h-1.7zM798 397.7h1.7V404.5h-1.7zM798.6 397.7h1.7V403h-1.7zM802.6 397.7h1.7V408.7h-1.7zM807.1 397.7h1.7V402.2h-1.7zM807.7 397.7h1.7V400.4h-1.7zM808.3 397.7h1.7V404.4h-1.7zM812.2 397.7h1.7V400.3h-1.7zM812.8 397.7h1.7V400.9h-1.7zM813.4 397.7h1.7V402.4h-1.7zM813.9 397.7h1.7V402.2h-1.7zM814.5 397.7h1.7V400.7h-1.7zM815.1 397.7h1.7V400.2h-1.7zM815.7 397.7h1.7V402.8h-1.7zM816.2 397.7h1.7V401.7h-1.7zM817.4 397.7h1.7V402.6h-1.7zM817.9 397.7h1.7V404h-1.7zM819.1 397.7h1.7V400.1h-1.7zM819.6 397.7h1.7V401.6h-1.7zM820.2 397.7h1.7V405.4h-1.7zM820.8 397.7h1.7V404.1h-1.7zM821.3 397.7h1.7V404.1h-1.7zM821.9 397.7h1.7V400.7h-1.7zM822.5 397.7h1.7V399.8h-1.7zM823 397.7h1.7V400.6h-1.7zM823.6 397.7h1.7V403.6h-1.7zM825.3 397.7h1.7V405.1h-1.7zM826.5 397.7h1.7V401.7h-1.7zM828.2 397.7h1.7V405.7h-1.7zM828.7 397.7h1.7V405.5h-1.7zM829.3 397.7h1.7V405h-1.7zM830.4 397.7h1.7V401.4h-1.7zM831 397.7h1.7V406.3h-1.7zM831.6 397.7h1.7V402.2h-1.7zM832.1 397.7h1.7V408.7h-1.7zM832.7 397.7h1.7V401.9h-1.7zM834.4 397.7h1.7V404h-1.7zM835 397.7h1.7V405h-1.7zM835.5 397.7h1.7V412h-1.7zM837.8 397.7h1.7V407.8h-1.7zM838.4 397.7h1.7V412.9h-1.7zM842.4 397.7h1.7V404.5h-1.7zM842.9 397.7h1.7V409.5h-1.7zM843.5 397.7h1.7V404h-1.7zM844.1 397.7h1.7V407.8h-1.7zM844.6 397.7h1.7V406.6h-1.7zM845.2 397.7h1.7V402.6h-1.7zM845.8 397.7h1.7V405.9h-1.7zM849.2 397.7h1.7V406.7h-1.7zM849.8 397.7h1.7V413h-1.7zM850.9 397.7h1.7V410.6h-1.7zM852.6 397.7h1.7V408.2h-1.7zM853.7 397.7h1.7V402.8h-1.7zM854.3 397.7h1.7V406.3h-1.7zM854.9 397.7h1.7V405.3h-1.7zM855.4 397.7h1.7V404h-1.7zM856 397.7h1.7V400.7h-1.7zM858.9 397.7h1.7V399.8h-1.7zM859.4 397.7h1.7V401.9h-1.7zM860 397.7h1.7V402.7h-1.7zM860.6 397.7h1.7V400.4h-1.7zM861.1 397.7h1.7V401.1h-1.7zM861.7 397.7h1.7V403.7h-1.7zM862.3 397.7h1.7V405.3h-1.7zM862.8 397.7h1.7V405.2h-1.7zM863.4 397.7h1.7V400h-1.7zM864.5 397.7h1.7V401.4h-1.7zM869.1 397.7h1.7V402.9h-1.7zM869.7 397.7h1.7V403.2h-1.7zM871.4 397.7h1.7V404.8h-1.7zM871.9 397.7h1.7V401.5h-1.7zM872.5 397.7h1.7V400.9h-1.7zM874.2 397.7h1.7V402.1h-1.7zM874.8 397.7h1.7V404.6h-1.7zM875.3 397.7h1.7V405.3h-1.7zM875.9 397.7h1.7V400.7h-1.7zM879.9 397.7h1.7V406.1h-1.7zM880.5 397.7h1.7V403.5h-1.7zM881 397.7h1.7V402.1h-1.7zM881.6 397.7h1.7V408.6h-1.7zM882.2 397.7h1.7V409.6h-1.7zM882.7 397.7h1.7V406.2h-1.7zM885 397.7h1.7V408.7h-1.7zM885.6 397.7h1.7V409.5h-1.7zM887.3 397.7h1.7V406.3h-1.7zM887.9 397.7h1.7V402.4h-1.7zM893.5 397.7h1.7V409h-1.7zM894.1 397.7h1.7V402.7h-1.7zM894.7 397.7h1.7V409.5h-1.7zM895.2 397.7h1.7V412.3h-1.7zM895.8 397.7h1.7V407.7h-1.7zM896.4 397.7h1.7V411h-1.7zM897.5 397.7h1.7V403.1h-1.7zM898.7 397.7h1.7V407.1h-1.7zM899.2 397.7h1.7V403.6h-1.7zM900.4 397.7h1.7V418.7h-1.7zM900.9 397.7h1.7V405.9h-1.7zM901.5 397.7h1.7V407h-1.7zM902.1 397.7h1.7V406.5h-1.7zM903.2 397.7h1.7V408.8h-1.7zM903.8 397.7h1.7V407.4h-1.7zM905.5 397.7h1.7V420.5h-1.7zM906 397.7h1.7V409.7h-1.7zM907.2 397.7h1.7V408.5h-1.7zM907.7 397.7h1.7V418.5h-1.7zM908.9 397.7h1.7V409.9h-1.7zM910.6 397.7h1.7V427.3h-1.7zM911.2 397.7h1.7V411.6h-1.7zM912.3 397.7h1.7V406.4h-1.7zM914.6 397.7h1.7V411.8h-1.7zM916.3 397.7h1.7V409.2h-1.7zM916.8 397.7h1.7V419.8h-1.7zM917.4 397.7h1.7V414.8h-1.7zM918 397.7h1.7V413.1h-1.7zM919.1 397.7h1.7V410.4h-1.7zM919.7 397.7h1.7V406.7h-1.7zM920.3 397.7h1.7V406.8h-1.7zM921.4 397.7h1.7V406.8h-1.7zM922 397.7h1.7V413.5h-1.7zM922.5 397.7h1.7V410.2h-1.7zM923.1 397.7h1.7V423.2h-1.7zM924.2 397.7h1.7V421.8h-1.7zM924.8 397.7h1.7V408.5h-1.7zM925.4 397.7h1.7V408.4h-1.7zM925.9 397.7h1.7V405.2h-1.7zM926.5 397.7h1.7V411h-1.7zM927.1 397.7h1.7V410.2h-1.7zM928.8 397.7h1.7V417.1h-1.7zM930.5 397.7h1.7V411.3h-1.7zM931.1 397.7h1.7V410.6h-1.7zM931.6 397.7h1.7V411.1h-1.7zM932.2 397.7h1.7V424.7h-1.7zM935 397.7h1.7V420.8h-1.7zM935.6 397.7h1.7V422.4h-1.7zM936.2 397.7h1.7V417.1h-1.7zM936.7 397.7h1.7V416h-1.7zM937.9 397.7h1.7V404.7h-1.7zM938.4 397.7h1.7V420.5h-1.7zM939.6 397.7h1.7V407.5h-1.7zM940.2 397.7h1.7V417.6h-1.7zM940.7 397.7h1.7V416.9h-1.7zM941.3 397.7h1.7V412.8h-1.7zM941.9 397.7h1.7V416h-1.7zM942.4 397.7h1.7V414.8h-1.7zM943 397.7h1.7V407.1h-1.7zM944.1 397.7h1.7V411.5h-1.7zM944.7 397.7h1.7V412.3h-1.7zM945.3 397.7h1.7V406.9h-1.7zM945.8 397.7h1.7V421h-1.7zM946.4 397.7h1.7V412.1h-1.7zM947 397.7h1.7V418.2h-1.7zM948.1 397.7h1.7V410.8h-1.7zM949.8 397.7h1.7V409.3h-1.7zM950.4 397.7h1.7V418h-1.7zM951 397.7h1.7V405.7h-1.7zM951.5 397.7h1.7V405.1h-1.7zM952.1 397.7h1.7V417.6h-1.7zM952.7 397.7h1.7V410.5h-1.7zM954.4 397.7h1.7V411h-1.7zM954.9 397.7h1.7V416.7h-1.7zM955.5 397.7h1.7V415h-1.7zM956.1 397.7h1.7V411.8h-1.7zM956.6 397.7h1.7V409.1h-1.7zM957.2 397.7h1.7V409.2h-1.7zM957.8 397.7h1.7V406.4h-1.7zM958.3 397.7h1.7V404.6h-1.7zM958.9 397.7h1.7V415.2h-1.7zM959.5 397.7h1.7V407.9h-1.7zM960.1 397.7h1.7V417h-1.7zM964 397.7h1.7V407.4h-1.7zM964.6 397.7h1.7V413.9h-1.7zM965.2 397.7h1.7V406.7h-1.7zM965.7 397.7h1.7V414.5h-1.7zM966.9 397.7h1.7V405.8h-1.7zM967.4 397.7h1.7V405.3h-1.7zM968 397.7h1.7V410.5h-1.7zM968.6 397.7h1.7V407.3h-1.7zM971.4 397.7h1.7V405.4h-1.7zM972 397.7h1.7V405h-1.7zM973.1 397.7h1.7V407.6h-1.7zM973.7 397.7h1.7V404.6h-1.7zM974.3 397.7h1.7V407.7h-1.7zM976 397.7h1.7V401.8h-1.7zM976.5 397.7h1.7V402h-1.7zM977.1 397.7h1.7V408.6h-1.7zM978.8 397.7h1.7V401.7h-1.7zM979.4 397.7h1.7V404.8h-1.7zM981.7 397.7h1.7V401.8h-1.7zM982.2 397.7h1.7V404.6h-1.7zM982.8 397.7h1.7V405h-1.7zM983.4 397.7h1.7V413.9h-1.7zM983.9 397.7h1.7V408.4h-1.7zM984.5 397.7h1.7V403.3h-1.7zM991.3 397.7h1.7V409.6h-1.7zM993 397.7h1.7V413.5h-1.7zM997.6 397.7h1.7V415.8h-1.7zM998.1 397.7h1.7V408.3h-1.7zM998.7 397.7h1.7V418.5h-1.7zM999.3 397.7h1.7V419.3h-1.7zM999.8 397.7h1.7V404.7h-1.7zM1001 397.7h1.7V408.8h-1.7zM1002.7 397.7h1.7V403.3h-1.7zM1006.7 397.7h1.7V412.9h-1.7zM1007.2 397.7h1.7V406.7h-1.7zM1011.2 397.7h1.7V415.6h-1.7zM1011.8 397.7h1.7V415.9h-1.7zM1012.4 397.7h1.7V405.9h-1.7zM1012.9 397.7h1.7V413.1h-1.7zM1013.5 397.7h1.7V417h-1.7zM1015.8 397.7h1.7V406.4h-1.7zM1016.3 397.7h1.7V417h-1.7zM1016.9 397.7h1.7V418.6h-1.7zM1018 397.7h1.7V408.1h-1.7zM1018.6 397.7h1.7V414.1h-1.7zM1019.2 397.7h1.7V408.5h-1.7zM1020.3 397.7h1.7V406.3h-1.7zM1020.9 397.7h1.7V408.2h-1.7zM1021.4 397.7h1.7V413.4h-1.7zM1023.7 397.7h1.7V405.8h-1.7zM1024.3 397.7h1.7V406.3h-1.7zM1024.9 397.7h1.7V410h-1.7zM1025.4 397.7h1.7V416.5h-1.7zM1026.6 397.7h1.7V409.6h-1.7zM1027.1 397.7h1.7V421.5h-1.7zM1027.7 397.7h1.7V406.5h-1.7zM1028.3 397.7h1.7V421.7h-1.7zM1028.8 397.7h1.7V412.8h-1.7zM1029.4 397.7h1.7V406.1h-1.7zM1030 397.7h1.7V406.7h-1.7zM1030.5 397.7h1.7V413.1h-1.7zM1031.1 397.7h1.7V407.2h-1.7zM1031.7 397.7h1.7V407.5h-1.7zM1032.8 397.7h1.7V413.5h-1.7zM1034 397.7h1.7V413.5h-1.7zM1035.1 397.7h1.7V408.5h-1.7zM1035.7 397.7h1.7V407.4h-1.7zM1036.2 397.7h1.7V405.9h-1.7zM1036.8 397.7h1.7V415.1h-1.7zM1037.4 397.7h1.7V425.3h-1.7zM1037.9 397.7h1.7V416.9h-1.7zM1040.8 397.7h1.7V418.9h-1.7zM1041.3 397.7h1.7V424.9h-1.7zM1041.9 397.7h1.7V424.8h-1.7zM1042.5 397.7h1.7V428.6h-1.7zM1043.1 397.7h1.7V429.2h-1.7zM1043.6 397.7h1.7V414.4h-1.7zM1046.5 397.7h1.7V412h-1.7zM1048.2 397.7h1.7V421.9h-1.7zM1049.3 397.7h1.7V408h-1.7zM1050.4 397.7h1.7V406h-1.7zM1051 397.7h1.7V410.3h-1.7zM1052.7 397.7h1.7V419.3h-1.7zM1053.9 397.7h1.7V418.4h-1.7zM1054.4 397.7h1.7V412.5h-1.7zM1057.3 397.7h1.7V417h-1.7zM1059.5 397.7h1.7V408.1h-1.7zM1060.7 397.7h1.7V406.7h-1.7zM1061.8 397.7h1.7V415.9h-1.7zM1062.4 397.7h1.7V407.5h-1.7zM1064.1 397.7h1.7V415h-1.7zM1064.7 397.7h1.7V403.2h-1.7zM1065.2 397.7h1.7V403.5h-1.7zM1065.8 397.7h1.7V415.5h-1.7zM1066.4 397.7h1.7V412.1h-1.7zM1066.9 397.7h1.7V407.5h-1.7zM1069.8 397.7h1.7V414.3h-1.7zM1070.9 397.7h1.7V404.4h-1.7zM1071.5 397.7h1.7V406.4h-1.7zM1072 397.7h1.7V421.8h-1.7zM1073.2 397.7h1.7V414.8h-1.7zM1073.8 397.7h1.7V410.4h-1.7zM1074.3 397.7h1.7V422.9h-1.7zM1074.9 397.7h1.7V423.7h-1.7zM1075.5 397.7h1.7V419.8h-1.7zM1076 397.7h1.7V413h-1.7zM1077.2 397.7h1.7V411.6h-1.7zM1077.7 397.7h1.7V407.8h-1.7zM1078.3 397.7h1.7V405.6h-1.7zM1078.9 397.7h1.7V420.6h-1.7zM1080 397.7h1.7V421.4h-1.7zM1081.1 397.7h1.7V411.4h-1.7zM1082.8 397.7h1.7V412.6h-1.7zM1083.4 397.7h1.7V420.9h-1.7zM1084.6 397.7h1.7V404.8h-1.7zM1085.1 397.7h1.7V415.6h-1.7zM1086.3 397.7h1.7V419.7h-1.7zM1086.8 397.7h1.7V416.6h-1.7zM1087.4 397.7h1.7V408.2h-1.7zM1089.7 397.7h1.7V409.1h-1.7zM1090.2 397.7h1.7V413.5h-1.7zM1090.8 397.7h1.7V416h-1.7zM1091.4 397.7h1.7V411.5h-1.7zM1092.5 397.7h1.7V416.4h-1.7zM1093.6 397.7h1.7V414.2h-1.7zM1094.2 397.7h1.7V406.5h-1.7zM1098.8 397.7h1.7V416.1h-1.7zM1099.3 397.7h1.7V404.3h-1.7zM1099.9 397.7h1.7V415.1h-1.7zM1100.5 397.7h1.7V405.6h-1.7zM1101 397.7h1.7V403.1h-1.7zM1101.6 397.7h1.7V406.3h-1.7zM1102.2 397.7h1.7V414.3h-1.7zM1103.3 397.7h1.7V406.4h-1.7zM1105.6 397.7h1.7V407.1h-1.7zM1106.2 397.7h1.7V409.9h-1.7zM1109.6 397.7h1.7V406.1h-1.7zM1110.1 397.7h1.7V405h-1.7zM1110.7 397.7h1.7V403.2h-1.7zM1111.8 397.7h1.7V407.7h-1.7zM1112.4 397.7h1.7V404.1h-1.7zM1113.5 397.7h1.7V412.4h-1.7zM1114.1 397.7h1.7V415h-1.7zM1116.4 397.7h1.7V406.2h-1.7zM1117 397.7h1.7V412.1h-1.7zM1119.2 397.7h1.7V412.5h-1.7zM1119.8 397.7h1.7V416.1h-1.7zM1120.4 397.7h1.7V410.6h-1.7zM1121.5 397.7h1.7V418.8h-1.7zM1123.2 397.7h1.7V421.5h-1.7zM1124.3 397.7h1.7V415.7h-1.7zM1126.6 397.7h1.7V414.7h-1.7zM1127.2 397.7h1.7V408.2h-1.7zM1127.8 397.7h1.7V407.4h-1.7zM1130.6 397.7h1.7V404.6h-1.7zM1131.2 397.7h1.7V405.7h-1.7zM1131.7 397.7h1.7V404.8h-1.7zM1132.9 397.7h1.7V404.3h-1.7zM1133.4 397.7h1.7V404.7h-1.7zM1134 397.7h1.7V412.9h-1.7zM1134.6 397.7h1.7V407.2h-1.7zM1135.7 397.7h1.7V405.1h-1.7zM1136.3 397.7h1.7V413.6h-1.7zM1138.6 397.7h1.7V409h-1.7zM1139.1 397.7h1.7V408.4h-1.7zM1139.7 397.7h1.7V406.7h-1.7zM1140.8 397.7h1.7V412.2h-1.7zM1141.4 397.7h1.7V412h-1.7zM1142 397.7h1.7V412.4h-1.7zM1142.5 397.7h1.7V406h-1.7zM1145.4 397.7h1.7V404.2h-1.7zM1146 397.7h1.7V408.3h-1.7zM1147.7 397.7h1.7V410.7h-1.7zM1148.8 397.7h1.7V419.4h-1.7zM1150.5 397.7h1.7V404.5h-1.7zM1152.2 397.7h1.7V407.2h-1.7zM1152.8 397.7h1.7V426.1h-1.7zM1153.3 397.7h1.7V406h-1.7zM1155.6 397.7h1.7V406.8h-1.7zM1156.8 397.7h1.7V421h-1.7zM1159.6 397.7h1.7V403.9h-1.7zM1161.9 397.7h1.7V413.8h-1.7zM1162.4 397.7h1.7V403.9h-1.7zM1163 397.7h1.7V404.4h-1.7zM1163.6 397.7h1.7V406.4h-1.7zM1166.4 397.7h1.7V407.6h-1.7zM1170.4 397.7h1.7V407.7h-1.7zM1171 397.7h1.7V405.4h-1.7zM1171.5 397.7h1.7V408.8h-1.7zM1172.1 397.7h1.7V405.7h-1.7zM1173.2 397.7h1.7V403.3h-1.7zM1173.8 397.7h1.7V408.4h-1.7zM1175.5 397.7h1.7V403.3h-1.7zM1176.1 397.7h1.7V403.2h-1.7zM1177.2 397.7h1.7V407.7h-1.7zM1177.8 397.7h1.7V401.8h-1.7zM1179.5 397.7h1.7V403.3h-1.7zM1180.6 397.7h1.7V411.6h-1.7zM1181.2 397.7h1.7V411.5h-1.7zM1181.8 397.7h1.7V402.6h-1.7zM1182.3 397.7h1.7V409.3h-1.7zM1183.5 397.7h1.7V402.9h-1.7zM1184 397.7h1.7V402.7h-1.7zM1185.2 397.7h1.7V411h-1.7zM1186.3 397.7h1.7V406.7h-1.7zM1186.9 397.7h1.7V406.1h-1.7zM1190.3 397.7h1.7V413.9h-1.7zM1190.9 397.7h1.7V407.9h-1.7zM1191.4 397.7h1.7V411.9h-1.7zM1192 397.7h1.7V408.2h-1.7zM1192.6 397.7h1.7V419.4h-1.7zM1193.1 397.7h1.7V407.8h-1.7zM80.9 397.7h2.2V407.5h-2.2zM88.2 397.7h2.2V422.5h-2.2zM94.4 397.7h2.2V405h-2.2zM99.4 397.7h2.2V415h-2.2zM103.9 397.7h2.2V410h-2.2zM114.4 397.7h2.2V417.5h-2.2zM116.9 397.7h2.2V405h-2.2zM121.9 397.7h2.2V428.8h-2.2zM125.7 397.7h2.2V405h-2.2zM131.9 397.7h2.2V417.5h-2.2zM138.2 397.7h2.2V430h-2.2zM143.2 397.7h2.2V427.5h-2.2zM148.2 397.7h2.2V415h-2.2zM151.9 397.7h2.2V405h-2.2zM158.2 397.7h2.2V405h-2.2zM160.7 397.7h2.2V425h-2.2zM164.4 397.7h2.2V410h-2.2zM168.2 397.7h2.2V418.8h-2.2zM174.4 397.7h2.2V425h-2.2zM181.9 397.7h2.2V405h-2.2zM189.4 397.7h2.2V420h-2.2zM194.9 397.7h2.2V422.5h-2.2zM204.4 397.7h2.2V410h-2.2zM211.9 397.7h2.2V422.5h-2.2zM216.9 397.7h2.2V405h-2.2zM226.9 397.7h2.2V417.5h-2.2zM231.9 397.7h2.2V427.5h-2.2zM236.9 397.7h2.2V407.5h-2.2zM240.7 397.7h2.2V416.2h-2.2zM246.9 397.7h2.2V417.5h-2.2zM251.9 397.7h2.2V405h-2.2zM259.4 397.7h2.2V407.5h-2.2zM269.4 397.7h2.2V412.5h-2.2zM275.6 397.7h2.2V410h-2.2zM108.4 397.7h2.2V553.8h-2.2zM128.1 397.7h2.2V507h-2.2zM223.2 397.7h2.2V441.2h-2.2zM295.6 397.7h2.2V436.2h-2.2zM303.1 397.7h2.2V436.2h-2.2zM329.4 397.7h2.2V445h-2.2zM351.9 397.7h2.2V445h-2.2zM368.1 397.7h2.2V452.5h-2.2zM385.6 397.7h2.2V432.5h-2.2zM393.1 397.7h2.2V427.5h-2.2zM409.4 397.7h2.2V436.2h-2.2zM425.6 397.7h2.2V438.8h-2.2zM429.4 397.7h2.2V441.2h-2.2zM439.4 397.7h2.2V442.5h-2.2zM461.9 397.7h2.2V432.5h-2.2zM475.6 397.7h2.2V421.2h-2.2zM362.9 397.7h2.2V510.9h-2.2zM378.1 397.7h2.2V461h-2.2zM479.4 397.7h2.2V420h-2.2zM483.1 397.7h2.2V415h-2.2zM624.4 397.7h2.2V443.8h-2.2zM675.6 397.7h2.2V432.5h-2.2zM487.9 397.7h2.2V463.2h-2.2zM559.2 397.7h2.2V463.6h-2.2zM676.9 397.7h2.2V432.5h-2.2zM700.6 397.7h2.2V426.2h-2.2zM715.6 397.7h2.2V415h-2.2zM725.1 397.7h2.2V438.8h-2.2zM731.4 397.7h2.2V432.5h-2.2zM768.1 397.7h2.2V437.5h-2.2zM775.1 397.7h2.2V422.5h-2.2zM788.9 397.7h2.2V437.5h-2.2zM820.6 397.7h2.2V422.5h-2.2zM840.6 397.7h2.2V441.2h-2.2zM849.4 397.7h2.2V417.5h-2.2zM735.5 397.7h2.2V460.3h-2.2zM783.2 397.7h2.2V487.7h-2.2zM832.6 397.7h2.2V486.8h-2.2zM884.4 397.7h2.2V412.5h-2.2zM896.4 397.7h2.2V421.2h-2.2zM904.4 397.7h2.2V430h-2.2zM910.1 397.7h2.2V445h-2.2zM923.1 397.7h2.2V421.2h-2.2zM942.6 397.7h2.2V446.2h-2.2zM949.4 397.7h2.2V425h-2.2zM954.9 397.7h2.2V430h-2.2zM963.1 397.7h2.2V422.5h-2.2zM991.9 397.7h2.2V423.8h-2.2zM995.6 397.7h2.2V427.5h-2.2zM1018.9 397.7h2.2V420h-2.2zM1024.4 397.7h2.2V443.8h-2.2zM1031.2 397.7h2.2V430h-2.2zM1041.4 397.7h2.2V445h-2.2zM1046.4 397.7h2.2V425h-2.2zM1061.9 397.7h2.2V418.8h-2.2zM1069.4 397.7h2.2V437.5h-2.2zM1083.2 397.7h2.2V438.8h-2.2zM1094.4 397.7h2.2V427.5h-2.2zM1106.9 397.7h2.2V446.2h-2.2zM1121.9 397.7h2.2V426.2h-2.2zM1129.4 397.7h2.2V428.8h-2.2zM1146.9 397.7h2.2V417.5h-2.2zM1155.7 397.7h2.2V423.8h-2.2zM1165.7 397.7h2.2V413.8h-2.2zM1175.7 397.7h2.2V415h-2.2zM1181.9 397.7h2.2V417.5h-2.2zM1193.9 397.7h2.2V533h-2.2z"/>
<path fill="none" stroke="#767676" stroke-width="1.15" stroke-linejoin="round" d="M82.5 562.7 L84 562.6 L85.6 563.9 L87.1 561.1 L88.7 561.6 L90.2 562.3 L92.2 559.6 L94.3 560.5 L96.3 560.3 L98.3 560.3 L100 554.8 L101.7 553.8 L103.4 550.7 L104.9 555.6 L106.4 556.3 L108.5 552.5 L110.5 556.6 L112.2 556.7 L113.9 555.3 L115.6 555.3 L117.6 555.5 L119.6 553.8 L121.7 543.7 L123.7 537.3 L125.7 533.9 L127.3 533.4 L128.8 531.5 L131.2 518 L133.3 511.8 L134.9 514.8 L136.3 532.5 L137.9 526 L139.4 522.8 L141 521 L143 523.1 L145 522.2 L147.1 525.8 L149.1 525.3 L151.1 524 L152.6 524.1 L154.2 522.9 L155.7 523.2 L157.2 524.3 L159.3 537.4 L160.8 537.8 L162.3 532.9 L164 535.8 L165.7 534.2 L167.4 537.8 L168.9 537.2 L170.4 533 L171.9 534 L173.5 537.5 L175.5 534.8 L177.5 536.9 L179.1 531.4 L180.6 527.2 L182.4 530.8 L184.1 532.3 L185.9 530.5 L187.7 530.4 L189.7 531.1 L191.8 533.7 L193.4 531.9 L195 527.9 L196.6 527.7 L198.3 526.2 L199.9 525.1 L201.6 529 L203.3 526 L205 528 L206.6 524 L208.3 519.2 L210 518.3 L212.1 515.9 L214.1 518.9 L215.6 515.5 L217.1 516.3 L218.7 514.5 L220.2 514 L221.8 517.1 L223.4 515.9 L225.1 513 L226.7 515.5 L228.3 511.7 L230 512.1 L231.7 513.9 L233.4 512.3 L235.1 509.1 L236.8 513 L238.5 508.6 L240 502.8 L241.5 499.3 L243 494.7 L244.6 492.2 L246.1 485.3 L247.6 479.6 L249.6 498.3 L251.7 508.8 L253.2 505.5 L254.7 499.3 L256.4 498.7 L258.1 500.2 L259.8 496.8 L261.5 494.2 L263.2 492.6 L264.9 486.1 L266.4 486.5 L267.9 490.8 L270 488.8 L272 484.5 L273.5 481.1 L275 480.8 L276.6 479.5 L278.1 473.5 L279.6 475 L281.1 472.4 L283.2 472 L285.2 481.2 L287.2 470.5 L289.3 488.5 L291.3 486 L292.3 495.6 L294 493.2 L295.7 486.2 L297.4 484.3 L299.1 480.8 L300.8 476.9 L302.5 473.9 L304 477.7 L305.5 475.4 L307.2 474.2 L308.9 473.8 L310.6 473.2 L312.6 466.5 L314.6 459.2 L316.7 456.3 L318.7 446.6 L320.4 440.5 L322.1 436.6 L323.8 432.3 L325.8 425.5 L327.7 421.2 L329.7 417.3 L331.6 413.5 L333.6 406.4 L335.5 402.7 L337.7 411.2 L339.9 417.5 L341.8 415.4 L343.8 415.1 L345.7 414 L347.7 413.8 L349.6 415.2 L351.6 417 L353.5 426.4 L355.4 430.2 L357.4 436.4 L359.6 420.7 L361.8 412.8 L364 407.7 L366.1 404.6 L368.1 396.7 L370 394.2 L372 383.8 L373.9 381.8 L375.9 378.3 L377.8 374.8 L379.8 370.6 L381.7 367 L383.7 364 L385.6 367.5 L387.5 367.7 L389.5 372.2 L391.4 377.2 L393.4 380.9 L395.3 382.6 L397.2 380.8 L399 377.5 L400.8 372.4 L402.6 369 L404.6 362.5 L406.5 358.1 L408.5 352.9 L410.4 347.3 L412.3 347.2 L414.3 346.1 L416.2 341.1 L418.2 336 L420.1 329.9 L422.3 330.2 L424.5 327.9 L426.7 322.9 L428.9 320.5 L431.1 310.1 L433.3 306.9 L435.4 295.3 L437.6 290.1 L440.6 261.8 L442.7 254.7 L444.9 251.2 L447.9 269.2 L450.8 268.3 L452.8 285.9 L454.7 271.6 L456.6 259.4 L458.8 270.4 L461 281.7 L463.2 285.2 L465.4 290.9 L467.5 296 L469.7 296.2 L471.9 309.7 L474.1 326.6 L477 315 L479.2 306.5 L481.4 293.9 L484.3 300.9 L486.5 298.4 L488.7 294.6 L490.9 303.2 L493.1 309.5 L495 312.9 L497 314 L498.9 315.5 L500.9 322.7 L502.8 329.7 L504.8 335.1 L506.7 332.5 L508.6 331.7 L510.6 326.4 L512.5 320 L514.5 315.6 L516.4 308.9 L518.2 307.5 L520.1 307.4 L521.9 307.4 L523.7 305.6 L525.5 308 L527.4 313.9 L529.2 317.9 L531 318.5 L532.8 318.7 L534.5 320.5 L536.3 326.8 L538 324.7 L539.8 330 L541.7 331.3 L543.7 331.9 L545.6 336.3 L547.5 334.4 L549.5 336.9 L551.4 340.4 L553.4 337.8 L555.3 341.3 L557.3 337.9 L559.5 335.2 L561.7 332.6 L564.6 339.9 L566.8 328.7 L568.9 319.4 L570 319.1 L572.1 321.3 L573.6 326.6 L575.1 329.8 L576.6 333.5 L578.2 341 L579.7 339 L581.2 337.6 L582.7 339.9 L584.3 341.2 L586.3 335.4 L588.3 332.8 L590 331.5 L591.7 331.6 L593.4 329 L595.4 341.7 L596.9 341.9 L598.5 339.5 L600.2 340.2 L601.9 339.4 L603.5 334 L605.2 338.9 L606.9 338.5 L608.6 336.2 L610.1 337.8 L611.7 338.7 L613.2 340.1 L614.7 337.4 L616.2 339.4 L617.8 342 L619.3 340.9 L620.8 340.9 L622.3 339 L623.9 340.4 L625.4 338.7 L626.9 341.8 L628.4 342.1 L630 341.1 L631.5 341.3 L633 338.6 L635 353.3 L636.6 362.8 L638.1 371.9 L640.1 382.9 L642.1 375 L643.7 375.7 L645.2 381.7 L646.7 385.5 L648.2 387.1 L650.3 391.8 L652.3 387.5 L654.3 377.9 L655.9 380.5 L657.4 380.6 L659.4 378.3 L661.4 382.3 L663 377 L664.5 379.2 L666 379.6 L667.5 383.9 L669.1 386.7 L670.6 384 L672.1 384.5 L673.6 386.9 L675.3 388.9 L677 390.5 L678.7 390.8 L680.7 390.6 L682.8 386.8 L684.3 389.6 L685.8 385.7 L687.8 382.4 L689.9 379.8 L691.9 379.7 L693.9 382.9 L695.5 381.9 L697 380.8 L698.5 381.9 L700 380 L701.6 378.2 L703.1 378.1 L704.6 379.9 L706.1 379.7 L707.8 375.5 L709.5 378.1 L711.2 378 L712.6 364.6 L715.3 359.7 L717.3 356.9 L719.3 357.5 L721 356 L722.7 355.2 L724.4 350.9 L726.4 357.2 L728.5 356.4 L730.5 351.3 L732.5 348.7 L734.1 336.3 L735.6 324.8 L737.1 323.8 L738.6 318.6 L740.2 324 L741.7 326.4 L743.2 323.6 L744.7 317.8 L746.2 316.6 L747.8 319.6 L749.8 322 L751.3 322 L752.8 322.4 L754.9 317.2 L756.9 309.5 L758.9 297.5 L761 281.7 L763 297 L765 291.4 L766.6 285.4 L768.1 286.6 L770.1 291 L772.1 300 L773.7 299.6 L775.2 301.4 L777.2 303.1 L779.3 306.9 L780.8 302.6 L782.3 294.4 L783.8 294 L785.3 287.4 L787.4 292.9 L789.4 295.2 L791.4 301 L793 301.6 L794.5 300.2 L796.5 302.9 L798.6 306.1 L800.6 299.6 L802.3 298.4 L804 299.3 L805.7 302.1 L807.4 302.9 L809 303 L810.7 305.3 L812.3 312.2 L813.8 321.6 L815.3 318.4 L816.8 321 L818.4 321.5 L819.9 322.2 L821.5 319.4 L823 319.6 L824.6 322.9 L826.1 319.5 L827.6 326.5 L829.2 329 L831.2 306.9 L832.9 307.8 L834.6 310.6 L836.3 308.6 L838.3 309.8 L840.3 315.5 L842.4 316 L844.4 320.4 L845.9 323.1 L847.5 330.6 L849 329 L850.5 322.6 L852.5 325.5 L854.6 330 L856.3 333.5 L857.9 336.1 L859.6 334.3 L861.2 332.6 L862.7 330.4 L864.4 329.8 L866.1 331.3 L867.8 329.5 L869.8 323.9 L871.8 319 L873.5 316.3 L875.2 316.5 L876.9 313.9 L878.9 315.7 L881 315.1 L883 311.2 L885 307.3 L886.8 308.7 L888.6 307.6 L890.4 305.6 L892.1 299.6 L894.2 300.5 L896.2 305.9 L897.7 304.5 L899.3 307 L900.8 308.9 L902.3 313.7 L903.8 312.9 L905.3 311.4 L907.4 321.4 L909 338.8 L910.4 360.5 L912.5 349.1 L914 340.7 L915.5 337 L917 342.4 L918.5 344.8 L920.6 334.6 L922.6 331.5 L924.6 330.1 L926.7 329.7 L928.7 336.1 L930.2 334.1 L931.8 332.1 L933.8 327.8 L935.8 321.6 L937.5 315 L939.2 310.6 L940.9 304.7 L942.9 317.3 L944.4 312.3 L946 305.5 L948 310.8 L949.5 312.5 L951 315.2 L953.1 310.3 L955.1 303.2 L957.1 307.2 L959.2 308.6 L961.2 308.7 L963.2 310.1 L964.9 309.7 L966.6 307.6 L968.3 308.8 L970.3 308.6 L972 309.7 L973.7 309.9 L975.4 307.3 L977.2 309.3 L979 311 L980.8 311.1 L982.5 309.4 L984.1 311 L985.6 307.5 L987.6 294.7 L989.6 294.3 L991.7 291.8 L993.5 290.9 L995.2 289.4 L997 291.7 L998.8 289.1 L1000.8 291 L1002.8 292.8 L1004.9 293.4 L1006.9 288.1 L1008.9 302.2 L1011 302.3 L1013 299.4 L1014.5 298.1 L1016 294.3 L1017.6 297.6 L1019.1 301 L1021.1 297.6 L1023.2 296.3 L1025.2 300.1 L1027.2 298.8 L1029.3 295.6 L1031.3 294.8 L1032.8 292.3 L1034.3 294 L1036.4 283 L1038.1 282.5 L1039.7 277.5 L1041.4 278.8 L1043 276.8 L1044.6 270.5 L1046.2 272.1 L1047.8 265.5 L1049.4 264.3 L1052.3 255 L1055.2 251.8 L1057.2 259.1 L1059.1 247.6 L1061 253.5 L1063 252.4 L1064.9 255.8 L1066.9 251.3 L1069.8 233.6 L1071.7 234.2 L1074.7 223.4 L1076.6 215.6 L1078.5 207 L1080.5 191.6 L1082.4 203.1 L1084.4 191 L1086.3 199 L1088.7 209.6 L1091.2 206.3 L1092.2 214.2 L1095.1 201.7 L1098 194.5 L1099.9 180.1 L1102.8 173.7 L1105.8 164.8 L1107.7 177.2 L1109.6 178.7 L1111.6 175.1 L1113.5 174.6 L1115.5 166.1 L1117.4 159.9 L1120.3 160.1 L1123.3 169.3 L1125.2 164.5 L1128.1 160.6 L1131 162.2 L1133 160.4 L1134.9 155.2 L1136.9 160 L1138.8 163.3 L1141.7 174.6 L1143.7 165.1 L1146.6 161.8 L1148.5 158.2 L1150.5 163.5 L1152.4 172.1 L1155.3 192.2 L1157.3 203 L1159.2 193.2 L1162.1 200 L1164.1 193.9 L1167 204.7 L1169.9 191.9 L1172.8 198.5 L1174.8 211.5 L1177.7 203.5 L1179.6 203.9 L1181.6 202.8 L1183.5 203.2 L1185.5 208.1 L1187.1 210.4 L1188.7 212.6 L1190.3 214.1 L1193.2 201.1 L1195.6 191.5"/>
<g class="ax"><text x="141.0" y="643" text-anchor="middle" letter-spacing="0.25">Jul '16</text><text x="245.6" y="643" text-anchor="middle" letter-spacing="0.25">Jan '17</text><text x="348.6" y="643" text-anchor="middle" letter-spacing="0.25">Jul '17</text><text x="453.1" y="643" text-anchor="middle" letter-spacing="0.25">Jan '18</text><text x="557.2" y="643" text-anchor="middle" letter-spacing="0.25">Jul '18</text><text x="661.2" y="643" text-anchor="middle" letter-spacing="0.25">Jan '19</text><text x="764.0" y="643" text-anchor="middle" letter-spacing="0.25">Jul '19</text><text x="868.1" y="643" text-anchor="middle" letter-spacing="0.25">Jan '20</text><text x="971.6" y="643" text-anchor="middle" letter-spacing="0.25">Jul '20</text><text x="1076.1999999999998" y="643" text-anchor="middle" letter-spacing="0.25">Jan '21</text><text x="1179.1" y="643" text-anchor="middle" letter-spacing="0.25">Jul '21</text><text x="42.6" y="172.7" letter-spacing="0.4">100k</text><text x="42.6" y="228.6" letter-spacing="0.4">75k</text><text x="42.6" y="284.5" letter-spacing="0.4">50k</text><text x="42.6" y="340.5" letter-spacing="0.4">25k</text><text x="42.6" y="396.4" letter-spacing="0.4">0</text><text x="42.6" y="452.3" letter-spacing="0.4">-25k</text><text x="42.6" y="508.3" letter-spacing="0.4">-50k</text><text x="42.6" y="564.2" letter-spacing="0.4">-75k</text><text x="42.6" y="620.1" letter-spacing="0.4">-100k</text><text x="1237.4" y="157" text-anchor="end" letter-spacing="0.9">$60k</text><text x="1237.4" y="245.2" text-anchor="end" letter-spacing="0.9">$20k</text><text x="1237.4" y="319.9" text-anchor="end" letter-spacing="0.9">$8k</text><text x="1237.4" y="376.8" text-anchor="end" letter-spacing="0.9">$4k</text><text x="1237.4" y="490.4" text-anchor="end" letter-spacing="0.9">$1k</text><text x="1237.4" y="530.4" text-anchor="end" letter-spacing="0.9">$600</text><text x="1237.4" y="620" text-anchor="end" letter-spacing="0.9">$200</text></g>
<rect x="935" y="623" width="345" height="97" fill="#fff" fill-opacity="0.5"/>
<g style="mix-blend-mode:multiply">
<text x="1116.5" y="694.3" font-family="Liberation Sans" font-size="26.5" fill="#7b7b7b" stroke="#7b7b7b" stroke-width="0.4" textLength="136" lengthAdjust="spacingAndGlyphs">glassnode</text>
<g fill="none" stroke="#f6c96c" stroke-width="3.4" stroke-linejoin="round">
<path d="M943.4 650.4V665.5Q943.4 674.3 952 674.3H1005.5Q1011.1 674.3 1011.1 668.5V645.8"/>
<path d="M992.4 645.8V674.3"/>
</g>
<g fill="#f6c96c"><circle cx="964.5" cy="646.4" r="2.5"/><circle cx="970.8" cy="646.4" r="2.5"/><circle cx="1010.7" cy="633.6" r="2.5"/></g>
<g fill="none" stroke="#7b7b7b" stroke-width="3.2" stroke-linejoin="round">
<ellipse cx="1045.9" cy="660.3" rx="11.5" ry="13.7"/>
<path d="M1057.4 664V679Q1057 690 1040 690.5"/>
<path d="M1057.4 674.4H1108Q1112.8 674.4 1112.8 669V646.1"/>
<path d="M1076.1 646.1V674.4M1094.4 646.1V674.4"/>
<path d="M1138.3 646.1V674.4"/><path style="mix-blend-mode:multiply" d="M1138.3 674V682Q1138 689.4 1120 688.5"/>
<path d="M1138.3 674.4H1188Q1193.6 674.4 1193.6 668V628.9"/>
<path d="M1171.1 628.3L1151.3 642.2A25.4 32.2 0 0 1 1176.7 674.4"/>
<path d="M1205.5 628.9V676.7"/>
</g>
<g fill="#7b7b7b"><circle cx="1023.3" cy="673.9" r="2.8"/><circle cx="1068.9" cy="633.3" r="2.4"/><circle cx="1075.6" cy="633.3" r="2.4"/><circle cx="1093.3" cy="686.7" r="2.4"/><circle cx="1105" cy="686.7" r="2.4"/><circle cx="1111.7" cy="686.7" r="2.4"/></g>
<circle cx="1234.7" cy="654.9" r="22.6" fill="#fde59a"/>
<g fill="none" stroke="#fff" stroke-width="3.6" stroke-linejoin="round">
<path d="M1230.5 647.5H1237.5A3.8 3.8 0 0 1 1237.5 655.2H1230.5M1230.5 655.2H1238.5A4.6 4.6 0 0 1 1238.5 664.3H1230.5Z"/>
<path d="M1234.7 641V647.5M1234.7 664.3V669"/>
</g>
<g fill="none" stroke="#7ec1f4" stroke-width="3.6" stroke-linejoin="miter" style="mix-blend-mode:multiply">
<path d="M1212.5 689L1236.2 675.7L1252.5 683.8L1271.8 668"/>
<path d="M1257.7 667.5H1273.3V680.9"/>
</g>
<g fill="none" stroke="#6f9ed8" stroke-width="1.7" stroke-linecap="round" stroke-linejoin="round">
<path d="M1235 700V713M1233 697.5Q1235 695 1237 697.5"/>
<path d="M1226 712H1216Q1213 712 1215 709L1223 705"/>
<path d="M1209 708V712H1201"/>
<path d="M1194 700V712"/>
<path d="M1181 706Q1181 715 1175 717"/>
<path d="M1154 700V712"/>
<path d="M1143 700V712H1138"/>
<path d="M1134 712H1122Q1119 708 1124 705.5Q1129 704.5 1129 708"/>
<path d="M1117 712H1105Q1108 705 1112 706Q1116 708 1113 712"/>
<path d="M1099 700V712H1086L1091 704"/>
<path d="M1082 706V710Q1082 712 1079 712H1062Q1059 712 1059 709V706"/>
<path d="M1039 700V712"/>
<path d="M1029 700V712H1022"/>
<path d="M1019 706Q1019 715 1011 717"/>
<path d="M1002 712H993Q991 712 992 708Q994 704 998 706Q1000 709 997 712"/>
<path d="M987 712H975Q978 705 982 706Q986 708 983 712"/>
<path d="M970 708V712H961"/>
<path d="M956 712H947Q945 712 946 708Q948 704 952 705Q956 707 956 712"/>
</g>
<g fill="#6f9ed8"><circle cx="1220" cy="701" r="1.1"/><circle cx="1205" cy="716" r="1.1"/><circle cx="1069" cy="703" r="1.1"/><circle cx="1073" cy="703" r="1.1"/><circle cx="996" cy="701" r="1.1"/><circle cx="999" cy="701" r="1.1"/><circle cx="964" cy="716" r="1.1"/><circle cx="967.5" cy="716" r="1.1"/><circle cx="949.5" cy="700.5" r="1.1"/><circle cx="953" cy="700.5" r="1.1"/><circle cx="1116" cy="701" r="1.1"/></g>
</g>

<g class="lg">
<circle cx="731.2" cy="105.4" r="4.8" fill="#ec1111"/>
<text x="740.6" y="110" letter-spacing="0.33">Net Transfer Volume from/to Exchanges - All Exchanges [BTC]</text>
<circle cx="1154.2" cy="105.4" r="4.8" fill="#7a7a7a"/>
<text x="1163.7" y="110">Price [USD]</text>
</g>
</svg>
<div id="foot">© 2021 Glassnode. All Rights Reserved.</div>
<div id="bline"></div><div id="bline2"></div>
</body></html>
